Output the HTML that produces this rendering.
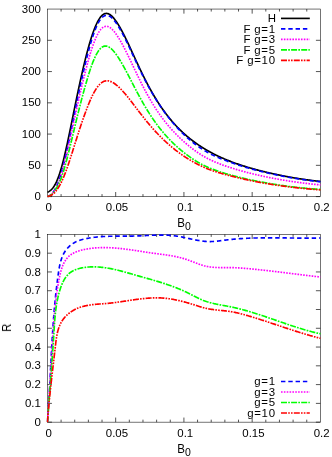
<!DOCTYPE html>
<html><head><meta charset="utf-8"><title>plot</title>
<style>html,body{margin:0;padding:0;background:#fff}svg{display:block}text{font-family:"Liberation Sans",sans-serif;fill:#000}</style></head><body>
<svg width="332" height="457" viewBox="0 0 332 457">
<rect width="332" height="457" fill="#fff"/>
<defs><filter id="gs" x="-0.2" y="-0.2" width="1.4" height="1.4" color-interpolation-filters="sRGB"><feColorMatrix type="saturate" values="0"/></filter><clipPath id="ct"><rect x="46.43" y="8.05" width="274.99" height="189.55"/></clipPath><clipPath id="cb"><rect x="46.43" y="233.40" width="274.97" height="189.75"/></clipPath></defs>
<rect x="47.43" y="9.05" width="272.99" height="187.55" fill="none" stroke="#000" stroke-width="0.55"/>
<path d="M61.08 196.60 v-2.50 M61.08 9.05 v2.50 M74.73 196.60 v-2.50 M74.73 9.05 v2.50 M88.38 196.60 v-2.50 M88.38 9.05 v2.50 M102.03 196.60 v-2.50 M102.03 9.05 v2.50 M115.68 196.60 v-4.60 M115.68 9.05 v4.60 M129.33 196.60 v-2.50 M129.33 9.05 v2.50 M142.98 196.60 v-2.50 M142.98 9.05 v2.50 M156.63 196.60 v-2.50 M156.63 9.05 v2.50 M170.28 196.60 v-2.50 M170.28 9.05 v2.50 M183.93 196.60 v-4.60 M183.93 9.05 v4.60 M197.57 196.60 v-2.50 M197.57 9.05 v2.50 M211.22 196.60 v-2.50 M211.22 9.05 v2.50 M224.87 196.60 v-2.50 M224.87 9.05 v2.50 M238.52 196.60 v-2.50 M238.52 9.05 v2.50 M252.17 196.60 v-4.60 M252.17 9.05 v4.60 M265.82 196.60 v-2.50 M265.82 9.05 v2.50 M279.47 196.60 v-2.50 M279.47 9.05 v2.50 M293.12 196.60 v-2.50 M293.12 9.05 v2.50 M306.77 196.60 v-2.50 M306.77 9.05 v2.50 M47.43 196.60 h4.5 M320.42 196.60 h-4.5 M47.43 165.34 h4.5 M320.42 165.34 h-4.5 M47.43 134.08 h4.5 M320.42 134.08 h-4.5 M47.43 102.83 h4.5 M320.42 102.83 h-4.5 M47.43 71.57 h4.5 M320.42 71.57 h-4.5 M47.43 40.31 h4.5 M320.42 40.31 h-4.5" stroke="#000" stroke-width="0.67" fill="none"/>
<g clip-path="url(#ct)" fill="none" stroke-width="1.65" stroke-linejoin="round">
<path d="M47.43 192.33 L48.11 192.01 L48.80 191.62 L49.48 191.18 L50.16 190.68 L50.85 190.10 L51.30 189.67 L51.76 189.21 L52.21 188.70 L52.67 188.16 L53.12 187.57 L53.58 186.93 L54.03 186.25 L54.49 185.52 L54.94 184.74 L55.40 183.91 L55.85 183.02 L56.31 182.08 L56.76 181.09 L57.22 180.04 L57.68 178.93 L57.90 178.35 L58.13 177.76 L58.36 177.16 L58.59 176.54 L58.81 175.91 L59.04 175.26 L59.27 174.60 L59.50 173.92 L59.72 173.23 L59.95 172.53 L60.18 171.81 L60.41 171.08 L60.64 170.33 L60.86 169.57 L61.09 168.80 L61.32 168.01 L61.55 167.21 L61.77 166.40 L62.00 165.57 L62.23 164.73 L62.46 163.88 L62.68 163.02 L62.91 162.14 L63.14 161.26 L63.37 160.36 L63.60 159.45 L63.82 158.53 L64.05 157.60 L64.28 156.66 L64.51 155.71 L64.73 154.74 L64.96 153.77 L65.19 152.79 L65.42 151.80 L65.64 150.81 L65.87 149.80 L66.10 148.79 L66.33 147.76 L66.56 146.74 L66.78 145.70 L67.01 144.66 L67.24 143.61 L67.47 142.55 L67.69 141.49 L67.92 140.42 L68.15 139.35 L68.38 138.27 L68.60 137.19 L68.83 136.11 L69.06 135.02 L69.29 133.92 L69.52 132.82 L69.74 131.72 L69.97 130.62 L70.20 129.51 L70.43 128.41 L70.65 127.29 L70.88 126.18 L71.11 125.07 L71.34 123.95 L71.56 122.83 L71.79 121.71 L72.02 120.60 L72.25 119.48 L72.47 118.36 L72.70 117.23 L72.93 116.11 L73.16 114.99 L73.39 113.87 L73.61 112.76 L73.84 111.64 L74.07 110.52 L74.30 109.40 L74.52 108.29 L74.75 107.18 L74.98 106.06 L75.21 104.95 L75.43 103.85 L75.66 102.74 L75.89 101.64 L76.12 100.53 L76.35 99.44 L76.57 98.34 L76.80 97.25 L77.03 96.15 L77.26 95.07 L77.48 93.98 L77.71 92.90 L77.94 91.82 L78.17 90.75 L78.39 89.68 L78.62 88.61 L78.85 87.55 L79.08 86.49 L79.31 85.43 L79.53 84.38 L79.76 83.33 L79.99 82.29 L80.22 81.25 L80.44 80.22 L80.67 79.19 L80.90 78.16 L81.13 77.14 L81.35 76.12 L81.58 75.11 L81.81 74.11 L82.04 73.11 L82.27 72.11 L82.49 71.12 L82.72 70.14 L82.95 69.16 L83.18 68.18 L83.40 67.22 L83.63 66.25 L83.86 65.30 L84.09 64.35 L84.31 63.40 L84.54 62.46 L84.77 61.53 L85.00 60.61 L85.23 59.69 L85.45 58.77 L85.68 57.87 L85.91 56.97 L86.14 56.07 L86.36 55.19 L86.59 54.31 L86.82 53.43 L87.05 52.57 L87.27 51.71 L87.50 50.86 L87.73 50.01 L87.96 49.17 L88.18 48.35 L88.41 47.52 L88.64 46.71 L88.87 45.90 L89.10 45.10 L89.32 44.31 L89.55 43.53 L89.78 42.76 L90.01 41.99 L90.23 41.23 L90.46 40.48 L90.69 39.74 L90.92 39.01 L91.14 38.28 L91.37 37.57 L91.60 36.86 L91.83 36.16 L92.06 35.48 L92.28 34.80 L92.51 34.13 L92.74 33.46 L92.97 32.81 L93.19 32.17 L93.42 31.54 L93.65 30.92 L93.88 30.30 L94.10 29.70 L94.33 29.11 L94.56 28.52 L94.79 27.95 L95.02 27.39 L95.47 26.29 L95.93 25.24 L96.38 24.23 L96.84 23.26 L97.29 22.34 L97.75 21.46 L98.20 20.62 L98.66 19.83 L99.11 19.08 L99.57 18.38 L100.02 17.73 L100.48 17.12 L100.94 16.56 L101.39 16.05 L101.85 15.58 L102.30 15.16 L102.98 14.62 L103.67 14.18 L104.35 13.84 L105.03 13.60 L105.72 13.46 L106.40 13.42 L107.08 13.47 L107.77 13.61 L108.45 13.84 L109.13 14.16 L109.81 14.55 L110.50 15.02 L111.18 15.56 L111.64 15.96 L112.09 16.39 L112.55 16.85 L113.00 17.33 L113.46 17.84 L113.91 18.38 L114.37 18.94 L114.82 19.52 L115.28 20.13 L115.73 20.75 L116.19 21.40 L116.65 22.07 L117.10 22.75 L117.56 23.45 L118.01 24.17 L118.47 24.91 L118.92 25.66 L119.38 26.43 L119.83 27.21 L120.29 28.01 L120.74 28.82 L121.20 29.65 L121.65 30.48 L122.11 31.33 L122.56 32.19 L123.02 33.06 L123.48 33.94 L123.93 34.83 L124.39 35.73 L124.84 36.64 L125.30 37.56 L125.75 38.49 L126.21 39.42 L126.66 40.36 L127.12 41.31 L127.57 42.27 L128.03 43.23 L128.48 44.19 L128.94 45.16 L129.40 46.14 L129.85 47.12 L130.31 48.10 L130.76 49.09 L131.22 50.07 L131.67 51.06 L132.13 52.06 L132.58 53.05 L133.04 54.04 L133.49 55.04 L133.95 56.03 L134.40 57.02 L134.86 58.02 L135.32 59.01 L135.77 60.00 L136.23 60.98 L136.68 61.97 L137.14 62.95 L137.59 63.93 L138.05 64.91 L138.50 65.88 L138.96 66.85 L139.41 67.82 L139.87 68.78 L140.32 69.74 L140.78 70.69 L141.23 71.64 L141.69 72.58 L142.15 73.52 L142.60 74.45 L143.06 75.38 L143.51 76.30 L143.97 77.21 L144.42 78.12 L144.88 79.03 L145.33 79.93 L145.79 80.82 L146.24 81.70 L146.70 82.58 L147.15 83.45 L147.61 84.32 L148.07 85.18 L148.52 86.03 L148.98 86.88 L149.43 87.72 L149.89 88.55 L150.34 89.38 L150.80 90.20 L151.25 91.01 L151.71 91.82 L152.16 92.62 L152.62 93.41 L153.07 94.20 L153.53 94.97 L153.98 95.75 L154.44 96.51 L154.90 97.27 L155.35 98.02 L155.81 98.77 L156.26 99.51 L156.72 100.24 L157.17 100.97 L157.63 101.69 L158.08 102.40 L158.54 103.11 L158.99 103.81 L159.45 104.50 L159.90 105.19 L160.36 105.87 L160.82 106.54 L161.27 107.21 L161.73 107.87 L162.18 108.53 L162.64 109.18 L163.09 109.82 L163.55 110.46 L164.00 111.09 L164.46 111.71 L164.91 112.33 L165.37 112.94 L165.82 113.55 L166.28 114.15 L166.74 114.75 L167.19 115.34 L167.65 115.92 L168.10 116.50 L168.56 117.08 L169.01 117.64 L169.47 118.21 L169.92 118.76 L170.38 119.32 L170.83 119.86 L171.29 120.40 L171.74 120.94 L172.20 121.47 L172.65 122.00 L173.11 122.52 L173.57 123.03 L174.02 123.54 L174.48 124.05 L174.93 124.55 L175.39 125.04 L175.84 125.54 L176.30 126.02 L176.75 126.50 L177.21 126.98 L177.66 127.45 L178.12 127.92 L178.57 128.39 L179.03 128.85 L179.49 129.30 L179.94 129.75 L180.40 130.20 L180.85 130.64 L181.31 131.08 L181.76 131.51 L182.22 131.94 L182.67 132.37 L183.13 132.79 L183.58 133.21 L184.04 133.62 L184.49 134.03 L184.95 134.44 L185.40 134.84 L185.86 135.24 L186.32 135.63 L186.77 136.03 L187.45 136.61 L188.14 137.18 L188.82 137.74 L189.50 138.30 L190.19 138.85 L190.87 139.39 L191.55 139.92 L192.24 140.45 L192.92 140.97 L193.60 141.48 L194.28 141.99 L194.97 142.49 L195.65 142.98 L196.33 143.46 L197.02 143.94 L197.70 144.42 L198.38 144.88 L199.07 145.34 L199.75 145.80 L200.43 146.25 L201.11 146.69 L201.80 147.13 L202.48 147.56 L203.16 147.99 L203.85 148.41 L204.53 148.82 L205.21 149.23 L205.90 149.64 L206.58 150.04 L207.26 150.43 L207.95 150.82 L208.63 151.21 L209.31 151.59 L209.99 151.96 L210.68 152.33 L211.36 152.70 L212.04 153.06 L212.73 153.42 L213.41 153.77 L214.09 154.12 L214.78 154.47 L215.46 154.81 L216.14 155.14 L216.82 155.48 L217.51 155.81 L218.19 156.13 L218.87 156.45 L219.56 156.77 L220.24 157.08 L220.92 157.39 L221.61 157.70 L222.29 158.00 L222.97 158.30 L223.66 158.60 L224.34 158.89 L225.02 159.18 L225.70 159.47 L226.39 159.75 L227.07 160.04 L227.75 160.31 L228.44 160.59 L229.12 160.86 L229.80 161.13 L230.49 161.39 L231.17 161.66 L231.85 161.92 L232.53 162.17 L233.22 162.43 L233.90 162.68 L234.58 162.93 L235.27 163.17 L235.95 163.42 L236.63 163.66 L237.32 163.90 L238.00 164.14 L238.68 164.37 L239.37 164.60 L240.05 164.83 L240.73 165.06 L241.41 165.28 L242.10 165.51 L242.78 165.73 L243.46 165.95 L244.15 166.16 L244.83 166.38 L245.51 166.59 L246.20 166.80 L246.88 167.01 L247.56 167.21 L248.24 167.42 L248.93 167.62 L249.61 167.82 L250.29 168.02 L250.98 168.22 L251.66 168.41 L252.34 168.61 L253.03 168.80 L253.71 168.99 L254.39 169.17 L255.08 169.36 L255.76 169.55 L256.44 169.73 L257.12 169.91 L257.81 170.09 L258.49 170.27 L259.17 170.45 L259.86 170.62 L260.54 170.80 L261.22 170.97 L261.91 171.14 L262.59 171.31 L263.27 171.48 L263.96 171.64 L264.64 171.81 L265.32 171.97 L266.00 172.14 L266.69 172.30 L267.37 172.46 L268.05 172.62 L268.74 172.77 L269.42 172.93 L270.10 173.09 L270.79 173.24 L271.47 173.39 L272.15 173.54 L272.83 173.69 L273.52 173.84 L274.20 173.99 L274.88 174.14 L275.57 174.28 L276.25 174.43 L276.93 174.57 L277.62 174.72 L278.30 174.86 L278.98 175.00 L279.67 175.14 L280.35 175.28 L281.03 175.42 L281.71 175.55 L282.40 175.69 L283.08 175.83 L283.76 175.96 L284.45 176.09 L285.13 176.23 L285.81 176.36 L286.50 176.49 L287.18 176.62 L287.86 176.75 L288.54 176.87 L289.23 177.00 L289.91 177.12 L290.59 177.24 L291.28 177.37 L291.96 177.49 L292.64 177.60 L293.33 177.72 L294.01 177.84 L294.69 177.95 L295.38 178.07 L296.06 178.18 L296.74 178.29 L297.42 178.40 L298.11 178.51 L298.79 178.62 L299.47 178.73 L300.16 178.83 L300.84 178.93 L301.52 179.04 L302.21 179.14 L302.89 179.24 L303.57 179.34 L304.25 179.44 L304.94 179.54 L305.62 179.63 L306.30 179.73 L306.99 179.82 L307.67 179.92 L308.35 180.01 L309.04 180.10 L309.72 180.19 L310.40 180.28 L311.09 180.37 L311.77 180.45 L312.45 180.54 L313.13 180.63 L313.82 180.71 L314.50 180.79 L315.18 180.87 L315.87 180.96 L316.55 181.04 L317.23 181.12 L317.92 181.19 L318.60 181.27 L319.28 181.35 L319.96 181.42 L320.42 181.47" stroke="#000000"/>
<path d="M47.43 196.60 L48.11 196.37 L48.80 196.07 L49.48 195.68 L50.17 195.18 L50.64 194.79 L51.11 194.35 L51.57 193.87 L52.04 193.36 L52.51 192.80 L52.98 192.22 L53.45 191.59 L53.92 190.92 L54.39 190.21 L54.86 189.44 L55.33 188.63 L55.80 187.76 L56.26 186.83 L56.73 185.84 L57.20 184.78 L57.44 184.22 L57.67 183.65 L57.91 183.06 L58.14 182.46 L58.37 181.83 L58.61 181.19 L58.84 180.53 L59.08 179.87 L59.31 179.19 L59.55 178.50 L59.78 177.79 L60.02 177.08 L60.25 176.36 L60.48 175.63 L60.71 174.89 L60.94 174.14 L61.16 173.37 L61.39 172.60 L61.62 171.81 L61.85 171.01 L62.07 170.20 L62.30 169.38 L62.53 168.55 L62.76 167.70 L62.98 166.85 L63.21 165.98 L63.44 165.10 L63.67 164.21 L63.90 163.31 L64.12 162.40 L64.35 161.47 L64.58 160.54 L64.81 159.60 L65.03 158.65 L65.26 157.68 L65.49 156.71 L65.72 155.73 L65.94 154.74 L66.17 153.74 L66.40 152.74 L66.63 151.72 L66.86 150.70 L67.08 149.67 L67.31 148.64 L67.54 147.59 L67.77 146.54 L67.99 145.48 L68.22 144.42 L68.45 143.35 L68.68 142.28 L68.90 141.20 L69.13 140.11 L69.36 139.02 L69.59 137.93 L69.82 136.83 L70.04 135.73 L70.27 134.62 L70.50 133.51 L70.73 132.40 L70.95 131.28 L71.18 130.16 L71.41 129.04 L71.64 127.92 L71.86 126.80 L72.09 125.67 L72.32 124.55 L72.55 123.42 L72.77 122.29 L73.00 121.16 L73.23 120.03 L73.46 118.90 L73.69 117.77 L73.91 116.64 L74.14 115.51 L74.37 114.38 L74.60 113.25 L74.82 112.13 L75.05 111.00 L75.28 109.88 L75.51 108.75 L75.73 107.63 L75.96 106.51 L76.19 105.40 L76.42 104.28 L76.65 103.17 L76.87 102.06 L77.10 100.95 L77.33 99.85 L77.56 98.75 L77.78 97.65 L78.01 96.56 L78.24 95.47 L78.47 94.38 L78.69 93.29 L78.92 92.21 L79.15 91.14 L79.38 90.06 L79.61 89.00 L79.83 87.93 L80.06 86.87 L80.29 85.81 L80.52 84.76 L80.74 83.72 L80.97 82.67 L81.20 81.63 L81.43 80.60 L81.65 79.57 L81.88 78.55 L82.11 77.53 L82.34 76.52 L82.57 75.51 L82.79 74.51 L83.02 73.51 L83.25 72.52 L83.48 71.53 L83.70 70.55 L83.93 69.57 L84.16 68.60 L84.39 67.64 L84.61 66.68 L84.84 65.73 L85.07 64.78 L85.30 63.84 L85.52 62.91 L85.74 61.98 L85.97 61.06 L86.19 60.15 L86.41 59.24 L86.64 58.34 L86.86 57.44 L87.08 56.55 L87.31 55.67 L87.53 54.80 L87.75 53.93 L87.98 53.07 L88.20 52.22 L88.42 51.37 L88.64 50.54 L88.87 49.71 L89.09 48.88 L89.31 48.07 L89.54 47.26 L89.76 46.46 L89.98 45.67 L90.21 44.89 L90.43 44.12 L90.65 43.35 L90.88 42.59 L91.10 41.84 L91.32 41.10 L91.55 40.37 L91.77 39.65 L91.99 38.94 L92.21 38.23 L92.44 37.54 L92.66 36.85 L92.88 36.17 L93.11 35.51 L93.33 34.85 L93.55 34.20 L93.78 33.56 L94.00 32.93 L94.22 32.31 L94.45 31.70 L94.67 31.11 L94.89 30.52 L95.12 29.94 L95.34 29.37 L95.56 28.81 L96.01 27.73 L96.45 26.69 L96.90 25.69 L97.35 24.74 L97.79 23.83 L98.24 22.96 L98.69 22.15 L99.13 21.37 L99.58 20.65 L100.02 19.97 L100.48 19.33 L100.94 18.75 L101.39 18.21 L101.85 17.72 L102.30 17.27 L102.76 16.88 L103.44 16.37 L104.12 15.96 L104.81 15.66 L105.49 15.46 L106.17 15.36 L106.85 15.35 L107.54 15.44 L108.22 15.62 L108.90 15.88 L109.59 16.22 L110.27 16.64 L110.95 17.14 L111.64 17.71 L112.09 18.13 L112.55 18.57 L113.00 19.05 L113.46 19.55 L113.91 20.07 L114.37 20.62 L114.82 21.19 L115.28 21.79 L115.73 22.41 L116.19 23.04 L116.65 23.70 L117.10 24.38 L117.56 25.07 L118.01 25.78 L118.47 26.51 L118.92 27.25 L119.38 28.01 L119.83 28.79 L120.29 29.57 L120.74 30.38 L121.20 31.19 L121.65 32.02 L122.11 32.86 L122.56 33.71 L123.02 34.57 L123.48 35.44 L123.93 36.33 L124.39 37.22 L124.84 38.12 L125.30 39.03 L125.75 39.94 L126.21 40.87 L126.66 41.80 L127.12 42.74 L127.57 43.68 L128.03 44.63 L128.48 45.59 L128.94 46.54 L129.40 47.51 L129.85 48.47 L130.31 49.44 L130.76 50.42 L131.22 51.39 L131.67 52.37 L132.13 53.35 L132.58 54.32 L133.04 55.30 L133.49 56.28 L133.95 57.26 L134.40 58.24 L134.86 59.21 L135.32 60.19 L135.77 61.16 L136.23 62.13 L136.68 63.10 L137.14 64.06 L137.59 65.02 L138.05 65.98 L138.50 66.93 L138.96 67.88 L139.41 68.83 L139.87 69.77 L140.32 70.71 L140.78 71.64 L141.23 72.57 L141.69 73.49 L142.15 74.41 L142.60 75.32 L143.06 76.22 L143.51 77.12 L143.97 78.02 L144.42 78.91 L144.88 79.79 L145.33 80.67 L145.79 81.54 L146.24 82.41 L146.70 83.27 L147.15 84.12 L147.61 84.97 L148.07 85.81 L148.52 86.65 L148.98 87.47 L149.43 88.30 L149.89 89.11 L150.34 89.92 L150.80 90.73 L151.25 91.53 L151.71 92.32 L152.16 93.10 L152.62 93.88 L153.07 94.65 L153.53 95.42 L153.98 96.18 L154.44 96.93 L154.90 97.68 L155.35 98.42 L155.81 99.16 L156.26 99.89 L156.72 100.61 L157.17 101.33 L157.63 102.04 L158.08 102.75 L158.54 103.45 L158.99 104.14 L159.45 104.83 L159.90 105.51 L160.36 106.19 L160.82 106.86 L161.27 107.52 L161.73 108.18 L162.18 108.84 L162.64 109.48 L163.09 110.13 L163.55 110.77 L164.00 111.40 L164.46 112.02 L164.91 112.65 L165.37 113.26 L165.82 113.87 L166.28 114.48 L166.74 115.08 L167.19 115.68 L167.65 116.27 L168.10 116.86 L168.56 117.44 L169.01 118.01 L169.47 118.59 L169.92 119.15 L170.38 119.72 L170.83 120.27 L171.29 120.83 L171.74 121.38 L172.20 121.92 L172.65 122.46 L173.11 123.00 L173.57 123.53 L174.02 124.06 L174.48 124.58 L174.93 125.10 L175.39 125.61 L175.84 126.12 L176.30 126.63 L176.75 127.13 L177.21 127.63 L177.66 128.13 L178.12 128.62 L178.57 129.11 L179.03 129.59 L179.49 130.07 L179.94 130.54 L180.40 131.02 L180.85 131.48 L181.31 131.95 L181.76 132.41 L182.22 132.86 L182.67 133.31 L183.13 133.76 L183.58 134.20 L184.04 134.64 L184.49 135.08 L184.95 135.51 L185.40 135.94 L185.86 136.36 L186.32 136.78 L186.77 137.20 L187.23 137.61 L187.68 138.02 L188.14 138.43 L188.59 138.83 L189.05 139.23 L189.50 139.62 L190.19 140.20 L190.87 140.78 L191.55 141.34 L192.24 141.90 L192.92 142.45 L193.60 142.99 L194.28 143.53 L194.97 144.05 L195.65 144.57 L196.33 145.08 L197.02 145.58 L197.70 146.07 L198.38 146.56 L199.07 147.03 L199.75 147.50 L200.43 147.97 L201.11 148.42 L201.80 148.87 L202.48 149.31 L203.16 149.74 L203.85 150.16 L204.53 150.58 L205.21 150.99 L205.90 151.40 L206.58 151.79 L207.26 152.18 L207.95 152.56 L208.63 152.94 L209.31 153.31 L209.99 153.67 L210.68 154.02 L211.36 154.37 L212.04 154.72 L212.73 155.05 L213.41 155.38 L214.09 155.71 L214.78 156.03 L215.46 156.34 L216.14 156.65 L216.82 156.96 L217.51 157.26 L218.19 157.55 L218.87 157.85 L219.56 158.14 L220.24 158.42 L220.92 158.70 L221.61 158.98 L222.29 159.25 L222.97 159.53 L223.66 159.79 L224.34 160.06 L225.02 160.32 L225.70 160.59 L226.39 160.84 L227.07 161.10 L227.75 161.36 L228.44 161.61 L229.12 161.86 L229.80 162.10 L230.49 162.35 L231.17 162.59 L231.85 162.83 L232.53 163.07 L233.22 163.31 L233.90 163.54 L234.58 163.77 L235.27 164.00 L235.95 164.23 L236.63 164.46 L237.32 164.68 L238.00 164.90 L238.68 165.12 L239.37 165.34 L240.05 165.56 L240.73 165.77 L241.41 165.98 L242.10 166.19 L242.78 166.40 L243.46 166.61 L244.15 166.82 L244.83 167.02 L245.51 167.22 L246.20 167.42 L246.88 167.62 L247.56 167.82 L248.24 168.01 L248.93 168.21 L249.61 168.40 L250.29 168.59 L250.98 168.78 L251.66 168.97 L252.34 169.15 L253.03 169.34 L253.71 169.52 L254.39 169.70 L255.08 169.88 L255.76 170.06 L256.44 170.24 L257.12 170.41 L257.81 170.59 L258.49 170.76 L259.17 170.93 L259.86 171.10 L260.54 171.27 L261.22 171.44 L261.91 171.61 L262.59 171.77 L263.27 171.94 L263.96 172.10 L264.64 172.26 L265.32 172.42 L266.00 172.58 L266.69 172.74 L267.37 172.90 L268.05 173.05 L268.74 173.21 L269.42 173.36 L270.10 173.51 L270.79 173.66 L271.47 173.81 L272.15 173.96 L272.83 174.11 L273.52 174.26 L274.20 174.40 L274.88 174.55 L275.57 174.69 L276.25 174.84 L276.93 174.98 L277.62 175.12 L278.30 175.26 L278.98 175.40 L279.67 175.54 L280.35 175.67 L281.03 175.81 L281.71 175.95 L282.40 176.08 L283.08 176.21 L283.76 176.35 L284.45 176.48 L285.13 176.61 L285.81 176.74 L286.50 176.87 L287.18 177.00 L287.86 177.12 L288.54 177.25 L289.23 177.37 L289.91 177.49 L290.59 177.62 L291.28 177.74 L291.96 177.85 L292.64 177.97 L293.33 178.09 L294.01 178.20 L294.69 178.32 L295.38 178.43 L296.06 178.54 L296.74 178.65 L297.42 178.76 L298.11 178.87 L298.79 178.97 L299.47 179.08 L300.16 179.18 L300.84 179.28 L301.52 179.38 L302.21 179.48 L302.89 179.58 L303.57 179.68 L304.25 179.78 L304.94 179.88 L305.62 179.97 L306.30 180.06 L306.99 180.16 L307.67 180.25 L308.35 180.34 L309.04 180.43 L309.72 180.52 L310.40 180.60 L311.09 180.69 L311.77 180.77 L312.45 180.86 L313.13 180.94 L313.82 181.02 L314.50 181.10 L315.18 181.18 L315.87 181.26 L316.55 181.34 L317.23 181.42 L317.92 181.49 L318.60 181.57 L319.28 181.64 L319.96 181.72 L320.42 181.76" stroke="#0000ff" stroke-dasharray="4.4 2.9"/>
<path d="M47.43 196.60 L48.11 196.34 L48.80 196.02 L49.48 195.65 L50.17 195.21 L50.88 194.70 L51.36 194.31 L51.83 193.88 L52.31 193.40 L52.79 192.87 L53.26 192.28 L53.74 191.63 L54.21 190.94 L54.69 190.21 L55.17 189.44 L55.64 188.63 L56.12 187.79 L56.59 186.89 L57.07 185.95 L57.55 184.95 L58.02 183.90 L58.50 182.79 L58.73 182.21 L58.97 181.62 L59.21 181.01 L59.45 180.39 L59.69 179.75 L59.92 179.10 L60.16 178.43 L60.40 177.74 L60.63 177.05 L60.86 176.34 L61.09 175.62 L61.31 174.88 L61.54 174.14 L61.77 173.39 L62.00 172.62 L62.22 171.84 L62.45 171.05 L62.68 170.25 L62.91 169.44 L63.13 168.62 L63.36 167.79 L63.59 166.95 L63.82 166.10 L64.05 165.24 L64.27 164.37 L64.50 163.49 L64.73 162.60 L64.96 161.70 L65.18 160.79 L65.41 159.87 L65.64 158.94 L65.87 158.01 L66.09 157.06 L66.32 156.11 L66.55 155.15 L66.78 154.19 L67.01 153.21 L67.23 152.24 L67.46 151.25 L67.69 150.26 L67.92 149.26 L68.14 148.26 L68.37 147.25 L68.60 146.24 L68.83 145.22 L69.05 144.20 L69.28 143.17 L69.51 142.14 L69.74 141.11 L69.97 140.07 L70.19 139.03 L70.42 137.99 L70.65 136.94 L70.88 135.89 L71.10 134.84 L71.33 133.79 L71.56 132.74 L71.79 131.68 L72.01 130.62 L72.24 129.57 L72.47 128.51 L72.70 127.45 L72.92 126.39 L73.15 125.33 L73.38 124.26 L73.61 123.20 L73.84 122.14 L74.06 121.08 L74.29 120.02 L74.52 118.96 L74.75 117.90 L74.97 116.85 L75.20 115.79 L75.43 114.74 L75.66 113.68 L75.88 112.63 L76.11 111.58 L76.34 110.53 L76.57 109.49 L76.80 108.44 L77.02 107.40 L77.25 106.36 L77.48 105.33 L77.71 104.29 L77.93 103.26 L78.16 102.23 L78.39 101.21 L78.62 100.18 L78.84 99.17 L79.07 98.15 L79.30 97.14 L79.53 96.13 L79.76 95.12 L79.98 94.12 L80.21 93.12 L80.44 92.13 L80.67 91.14 L80.89 90.16 L81.12 89.17 L81.35 88.20 L81.58 87.22 L81.80 86.26 L82.03 85.29 L82.26 84.33 L82.49 83.38 L82.72 82.43 L82.94 81.48 L83.17 80.54 L83.40 79.61 L83.63 78.68 L83.85 77.76 L84.08 76.84 L84.31 75.92 L84.54 75.01 L84.76 74.11 L84.99 73.21 L85.22 72.32 L85.45 71.44 L85.67 70.56 L85.89 69.68 L86.11 68.82 L86.33 67.95 L86.55 67.10 L86.77 66.25 L86.99 65.41 L87.21 64.57 L87.44 63.74 L87.66 62.92 L87.88 62.10 L88.10 61.29 L88.32 60.49 L88.54 59.70 L88.76 58.91 L88.98 58.13 L89.20 57.35 L89.42 56.59 L89.64 55.83 L89.86 55.08 L90.09 54.34 L90.31 53.60 L90.53 52.87 L90.75 52.16 L90.97 51.44 L91.19 50.74 L91.41 50.05 L91.63 49.36 L91.85 48.68 L92.07 48.01 L92.29 47.35 L92.51 46.70 L92.74 46.06 L92.96 45.42 L93.18 44.80 L93.40 44.18 L93.62 43.58 L93.84 42.98 L94.06 42.39 L94.28 41.81 L94.50 41.24 L94.72 40.68 L95.16 39.59 L95.61 38.54 L96.05 37.53 L96.49 36.57 L96.93 35.64 L97.37 34.75 L97.82 33.91 L98.26 33.11 L98.70 32.36 L99.14 31.64 L99.58 30.98 L100.02 30.35 L100.48 29.77 L100.94 29.24 L101.39 28.75 L101.85 28.31 L102.30 27.91 L102.98 27.40 L103.67 26.98 L104.35 26.67 L105.03 26.45 L105.72 26.33 L106.40 26.30 L107.08 26.37 L107.77 26.52 L108.45 26.75 L109.13 27.07 L109.81 27.46 L110.50 27.93 L111.18 28.47 L111.64 28.86 L112.09 29.28 L112.55 29.74 L113.00 30.21 L113.46 30.72 L113.91 31.24 L114.37 31.80 L114.82 32.37 L115.28 32.96 L115.73 33.58 L116.19 34.21 L116.65 34.87 L117.10 35.54 L117.56 36.23 L118.01 36.93 L118.47 37.66 L118.92 38.39 L119.38 39.15 L119.83 39.91 L120.29 40.69 L120.74 41.48 L121.20 42.29 L121.65 43.11 L122.11 43.94 L122.56 44.78 L123.02 45.63 L123.48 46.49 L123.93 47.35 L124.39 48.23 L124.84 49.12 L125.30 50.01 L125.75 50.92 L126.21 51.83 L126.66 52.74 L127.12 53.67 L127.57 54.59 L128.03 55.53 L128.48 56.47 L128.94 57.41 L129.40 58.36 L129.85 59.31 L130.31 60.26 L130.76 61.21 L131.22 62.17 L131.67 63.13 L132.13 64.09 L132.58 65.05 L133.04 66.01 L133.49 66.97 L133.95 67.93 L134.40 68.89 L134.86 69.85 L135.32 70.81 L135.77 71.76 L136.23 72.72 L136.68 73.67 L137.14 74.61 L137.59 75.56 L138.05 76.50 L138.50 77.43 L138.96 78.37 L139.41 79.29 L139.87 80.22 L140.32 81.14 L140.78 82.05 L141.23 82.96 L141.69 83.86 L142.15 84.76 L142.60 85.66 L143.06 86.54 L143.51 87.42 L143.97 88.30 L144.42 89.17 L144.88 90.03 L145.33 90.89 L145.79 91.74 L146.24 92.58 L146.70 93.42 L147.15 94.25 L147.61 95.08 L148.07 95.89 L148.52 96.70 L148.98 97.51 L149.43 98.31 L149.89 99.10 L150.34 99.88 L150.80 100.66 L151.25 101.43 L151.71 102.19 L152.16 102.95 L152.62 103.70 L153.07 104.44 L153.53 105.17 L153.98 105.90 L154.44 106.63 L154.90 107.34 L155.35 108.05 L155.81 108.75 L156.26 109.45 L156.72 110.13 L157.17 110.82 L157.63 111.49 L158.08 112.16 L158.54 112.82 L158.99 113.48 L159.45 114.13 L159.90 114.78 L160.36 115.41 L160.82 116.05 L161.27 116.67 L161.73 117.29 L162.18 117.91 L162.64 118.52 L163.09 119.12 L163.55 119.72 L164.00 120.31 L164.46 120.90 L164.91 121.48 L165.37 122.05 L165.82 122.62 L166.28 123.19 L166.74 123.75 L167.19 124.30 L167.65 124.85 L168.10 125.40 L168.56 125.94 L169.01 126.47 L169.47 127.00 L169.92 127.53 L170.38 128.05 L170.83 128.56 L171.29 129.07 L171.74 129.58 L172.20 130.08 L172.65 130.58 L173.11 131.07 L173.57 131.56 L174.02 132.05 L174.48 132.53 L174.93 133.01 L175.39 133.48 L175.84 133.95 L176.30 134.41 L176.75 134.87 L177.21 135.33 L177.66 135.78 L178.12 136.23 L178.57 136.68 L179.03 137.12 L179.49 137.56 L179.94 138.00 L180.40 138.43 L180.85 138.86 L181.31 139.28 L181.76 139.71 L182.22 140.12 L182.67 140.54 L183.13 140.95 L183.58 141.36 L184.04 141.77 L184.49 142.17 L184.95 142.57 L185.40 142.97 L185.86 143.36 L186.32 143.75 L187.00 144.34 L187.68 144.91 L188.36 145.48 L189.05 146.04 L189.73 146.60 L190.41 147.15 L191.10 147.69 L191.78 148.22 L192.46 148.75 L193.15 149.27 L193.83 149.79 L194.51 150.29 L195.20 150.79 L195.88 151.28 L196.56 151.76 L197.24 152.24 L197.93 152.71 L198.61 153.17 L199.29 153.62 L199.98 154.06 L200.66 154.50 L201.34 154.93 L202.03 155.35 L202.71 155.77 L203.39 156.17 L204.07 156.57 L204.76 156.96 L205.44 157.34 L206.12 157.72 L206.81 158.08 L207.49 158.44 L208.17 158.80 L208.86 159.14 L209.54 159.48 L210.22 159.81 L210.91 160.14 L211.59 160.46 L212.27 160.77 L212.95 161.08 L213.64 161.38 L214.32 161.68 L215.00 161.97 L215.69 162.26 L216.37 162.54 L217.05 162.82 L217.74 163.10 L218.42 163.37 L219.10 163.63 L219.78 163.89 L220.47 164.15 L221.15 164.41 L221.83 164.66 L222.52 164.91 L223.20 165.16 L223.88 165.40 L224.57 165.64 L225.25 165.88 L225.93 166.11 L226.62 166.34 L227.30 166.57 L227.98 166.80 L228.66 167.03 L229.35 167.25 L230.03 167.47 L230.71 167.69 L231.40 167.91 L232.08 168.13 L232.76 168.34 L233.45 168.55 L234.13 168.76 L234.81 168.97 L235.49 169.18 L236.18 169.38 L236.86 169.59 L237.54 169.79 L238.23 169.99 L238.91 170.19 L239.59 170.39 L240.28 170.58 L240.96 170.77 L241.64 170.97 L242.33 171.16 L243.01 171.35 L243.69 171.53 L244.37 171.72 L245.06 171.90 L245.74 172.08 L246.42 172.27 L247.11 172.44 L247.79 172.62 L248.47 172.80 L249.16 172.97 L249.84 173.15 L250.52 173.32 L251.20 173.49 L251.89 173.66 L252.57 173.82 L253.25 173.99 L253.94 174.15 L254.62 174.32 L255.30 174.48 L255.99 174.64 L256.67 174.80 L257.35 174.95 L258.04 175.11 L258.72 175.26 L259.40 175.42 L260.08 175.57 L260.77 175.72 L261.45 175.87 L262.13 176.02 L262.82 176.16 L263.50 176.31 L264.18 176.46 L264.87 176.60 L265.55 176.74 L266.23 176.88 L266.91 177.02 L267.60 177.16 L268.28 177.30 L268.96 177.44 L269.65 177.57 L270.33 177.71 L271.01 177.84 L271.70 177.97 L272.38 178.10 L273.06 178.23 L273.75 178.36 L274.43 178.49 L275.11 178.62 L275.79 178.75 L276.48 178.87 L277.16 179.00 L277.84 179.12 L278.53 179.24 L279.21 179.37 L279.89 179.49 L280.58 179.61 L281.26 179.73 L281.94 179.84 L282.62 179.96 L283.31 180.08 L283.99 180.20 L284.67 180.31 L285.36 180.42 L286.04 180.54 L286.72 180.65 L287.41 180.76 L288.09 180.87 L288.77 180.98 L289.46 181.09 L290.14 181.20 L290.82 181.30 L291.50 181.41 L292.19 181.51 L292.87 181.61 L293.55 181.71 L294.24 181.81 L294.92 181.91 L295.60 182.01 L296.29 182.11 L296.97 182.20 L297.65 182.30 L298.33 182.39 L299.02 182.48 L299.70 182.58 L300.38 182.67 L301.07 182.76 L301.75 182.84 L302.43 182.93 L303.12 183.02 L303.80 183.10 L304.48 183.19 L305.17 183.27 L305.85 183.35 L306.53 183.44 L307.21 183.52 L307.90 183.60 L308.58 183.68 L309.26 183.75 L309.95 183.83 L310.63 183.91 L311.31 183.98 L312.00 184.06 L312.68 184.13 L313.36 184.20 L314.04 184.28 L314.73 184.35 L315.41 184.42 L316.09 184.49 L316.78 184.55 L317.46 184.62 L318.14 184.69 L318.83 184.76 L319.51 184.82 L320.19 184.89 L320.42 184.91" stroke="#ff00ff" stroke-dasharray="1.6 1.25"/>
<path d="M47.43 196.60 L48.11 196.37 L48.80 196.11 L49.48 195.81 L50.17 195.45 L50.90 195.03 L51.64 194.53 L52.12 194.14 L52.61 193.69 L53.10 193.19 L53.58 192.61 L54.07 191.95 L54.56 191.20 L55.05 190.42 L55.53 189.64 L56.02 188.85 L56.51 188.05 L56.99 187.22 L57.48 186.36 L57.97 185.45 L58.46 184.50 L58.94 183.51 L59.43 182.47 L59.92 181.38 L60.16 180.81 L60.41 180.23 L60.65 179.64 L60.88 179.04 L61.11 178.43 L61.34 177.80 L61.56 177.16 L61.79 176.51 L62.02 175.85 L62.25 175.18 L62.47 174.49 L62.70 173.80 L62.93 173.09 L63.16 172.37 L63.38 171.64 L63.61 170.90 L63.84 170.15 L64.07 169.40 L64.30 168.63 L64.52 167.85 L64.75 167.06 L64.98 166.26 L65.21 165.45 L65.43 164.64 L65.66 163.82 L65.89 162.98 L66.12 162.15 L66.34 161.30 L66.57 160.44 L66.80 159.58 L67.03 158.71 L67.26 157.84 L67.48 156.96 L67.71 156.07 L67.94 155.18 L68.17 154.28 L68.39 153.38 L68.62 152.47 L68.85 151.55 L69.08 150.64 L69.30 149.72 L69.53 148.79 L69.76 147.86 L69.99 146.93 L70.22 146.00 L70.44 145.06 L70.67 144.12 L70.90 143.17 L71.13 142.23 L71.35 141.28 L71.58 140.34 L71.81 139.39 L72.04 138.44 L72.26 137.48 L72.49 136.53 L72.72 135.58 L72.95 134.62 L73.17 133.67 L73.40 132.71 L73.63 131.76 L73.86 130.80 L74.09 129.85 L74.31 128.90 L74.54 127.94 L74.77 126.99 L75.00 126.04 L75.22 125.09 L75.45 124.14 L75.68 123.19 L75.91 122.24 L76.13 121.30 L76.36 120.36 L76.59 119.42 L76.82 118.48 L77.05 117.54 L77.27 116.60 L77.50 115.67 L77.73 114.74 L77.96 113.81 L78.18 112.89 L78.41 111.97 L78.64 111.05 L78.87 110.13 L79.09 109.22 L79.32 108.31 L79.55 107.40 L79.78 106.50 L80.01 105.60 L80.23 104.71 L80.46 103.81 L80.69 102.92 L80.92 102.04 L81.14 101.16 L81.37 100.28 L81.60 99.41 L81.83 98.54 L82.05 97.68 L82.28 96.82 L82.51 95.96 L82.74 95.11 L82.97 94.26 L83.19 93.42 L83.42 92.59 L83.65 91.75 L83.88 90.93 L84.10 90.11 L84.33 89.29 L84.56 88.48 L84.79 87.67 L85.01 86.87 L85.24 86.07 L85.47 85.28 L85.70 84.50 L85.91 83.72 L86.13 82.95 L86.35 82.18 L86.57 81.42 L86.78 80.66 L87.00 79.91 L87.22 79.17 L87.43 78.43 L87.65 77.70 L87.87 76.97 L88.09 76.25 L88.30 75.54 L88.52 74.84 L88.74 74.14 L88.95 73.44 L89.17 72.76 L89.39 72.08 L89.60 71.41 L89.82 70.74 L90.04 70.09 L90.26 69.44 L90.47 68.79 L90.69 68.16 L90.91 67.53 L91.12 66.91 L91.34 66.29 L91.56 65.69 L91.78 65.09 L91.99 64.50 L92.21 63.92 L92.43 63.35 L92.64 62.78 L93.08 61.68 L93.51 60.60 L93.95 59.56 L94.38 58.56 L94.81 57.59 L95.25 56.66 L95.68 55.76 L96.12 54.90 L96.55 54.08 L96.98 53.30 L97.42 52.56 L97.85 51.85 L98.29 51.18 L98.72 50.56 L99.16 49.97 L99.59 49.43 L100.02 48.92 L100.48 48.46 L100.94 48.04 L101.62 47.48 L102.30 47.01 L102.98 46.64 L103.67 46.36 L104.35 46.16 L105.03 46.06 L105.72 46.04 L106.40 46.11 L107.08 46.25 L107.77 46.48 L108.45 46.78 L109.13 47.15 L109.81 47.59 L110.50 48.10 L111.18 48.67 L111.64 49.09 L112.09 49.53 L112.55 49.99 L113.00 50.48 L113.46 50.99 L113.91 51.52 L114.37 52.07 L114.82 52.64 L115.28 53.23 L115.73 53.83 L116.19 54.46 L116.65 55.10 L117.10 55.75 L117.56 56.42 L118.01 57.11 L118.47 57.81 L118.92 58.52 L119.38 59.24 L119.83 59.98 L120.29 60.73 L120.74 61.49 L121.20 62.25 L121.65 63.03 L122.11 63.82 L122.56 64.62 L123.02 65.42 L123.48 66.24 L123.93 67.06 L124.39 67.89 L124.84 68.72 L125.30 69.56 L125.75 70.41 L126.21 71.26 L126.66 72.12 L127.12 72.98 L127.57 73.85 L128.03 74.72 L128.48 75.59 L128.94 76.47 L129.40 77.35 L129.85 78.23 L130.31 79.11 L130.76 79.99 L131.22 80.87 L131.67 81.76 L132.13 82.64 L132.58 83.53 L133.04 84.41 L133.49 85.29 L133.95 86.17 L134.40 87.05 L134.86 87.93 L135.32 88.80 L135.77 89.67 L136.23 90.54 L136.68 91.40 L137.14 92.26 L137.59 93.12 L138.05 93.97 L138.50 94.82 L138.96 95.67 L139.41 96.51 L139.87 97.34 L140.32 98.17 L140.78 99.00 L141.23 99.82 L141.69 100.63 L142.15 101.44 L142.60 102.25 L143.06 103.05 L143.51 103.84 L143.97 104.63 L144.42 105.41 L144.88 106.19 L145.33 106.96 L145.79 107.72 L146.24 108.48 L146.70 109.23 L147.15 109.98 L147.61 110.72 L148.07 111.45 L148.52 112.18 L148.98 112.90 L149.43 113.62 L149.89 114.33 L150.34 115.03 L150.80 115.73 L151.25 116.42 L151.71 117.10 L152.16 117.78 L152.62 118.46 L153.07 119.12 L153.53 119.78 L153.98 120.44 L154.44 121.09 L154.90 121.73 L155.35 122.37 L155.81 123.00 L156.26 123.63 L156.72 124.25 L157.17 124.86 L157.63 125.47 L158.08 126.07 L158.54 126.67 L158.99 127.26 L159.45 127.85 L159.90 128.43 L160.36 129.01 L160.82 129.58 L161.27 130.14 L161.73 130.70 L162.18 131.25 L162.64 131.80 L163.09 132.35 L163.55 132.89 L164.00 133.42 L164.46 133.95 L164.91 134.47 L165.37 134.99 L165.82 135.50 L166.28 136.01 L166.74 136.52 L167.19 137.02 L167.65 137.51 L168.10 138.00 L168.56 138.49 L169.01 138.97 L169.47 139.45 L169.92 139.92 L170.38 140.39 L170.83 140.85 L171.29 141.31 L171.74 141.77 L172.20 142.22 L172.65 142.66 L173.11 143.11 L173.57 143.55 L174.02 143.98 L174.48 144.41 L174.93 144.84 L175.39 145.26 L175.84 145.68 L176.30 146.10 L176.75 146.51 L177.21 146.92 L177.66 147.32 L178.12 147.73 L178.57 148.12 L179.03 148.52 L179.49 148.91 L180.17 149.49 L180.85 150.06 L181.53 150.63 L182.22 151.19 L182.90 151.74 L183.58 152.28 L184.27 152.82 L184.95 153.35 L185.63 153.88 L186.32 154.40 L187.00 154.91 L187.68 155.42 L188.36 155.92 L189.05 156.41 L189.73 156.90 L190.41 157.38 L191.10 157.85 L191.78 158.32 L192.46 158.78 L193.15 159.23 L193.83 159.68 L194.51 160.11 L195.20 160.55 L195.88 160.97 L196.56 161.39 L197.24 161.80 L197.93 162.20 L198.61 162.60 L199.29 162.99 L199.98 163.37 L200.66 163.75 L201.34 164.11 L202.03 164.47 L202.71 164.83 L203.39 165.17 L204.07 165.51 L204.76 165.85 L205.44 166.17 L206.12 166.49 L206.81 166.80 L207.49 167.11 L208.17 167.41 L208.86 167.70 L209.54 167.99 L210.22 168.27 L210.91 168.55 L211.59 168.82 L212.27 169.09 L212.95 169.35 L213.64 169.61 L214.32 169.87 L215.00 170.12 L215.69 170.36 L216.37 170.61 L217.05 170.85 L217.74 171.08 L218.42 171.31 L219.10 171.54 L219.78 171.77 L220.47 171.99 L221.15 172.21 L221.83 172.42 L222.52 172.64 L223.20 172.85 L223.88 173.06 L224.57 173.26 L225.25 173.47 L225.93 173.67 L226.62 173.87 L227.30 174.07 L227.98 174.26 L228.66 174.46 L229.35 174.65 L230.03 174.84 L230.71 175.03 L231.40 175.21 L232.08 175.40 L232.76 175.58 L233.45 175.77 L234.13 175.95 L234.81 176.13 L235.49 176.30 L236.18 176.48 L236.86 176.66 L237.54 176.83 L238.23 177.00 L238.91 177.17 L239.59 177.34 L240.28 177.51 L240.96 177.67 L241.64 177.84 L242.33 178.00 L243.01 178.16 L243.69 178.32 L244.37 178.48 L245.06 178.64 L245.74 178.80 L246.42 178.95 L247.11 179.11 L247.79 179.26 L248.47 179.41 L249.16 179.56 L249.84 179.71 L250.52 179.86 L251.20 180.00 L251.89 180.15 L252.57 180.29 L253.25 180.43 L253.94 180.57 L254.62 180.71 L255.30 180.85 L255.99 180.99 L256.67 181.13 L257.35 181.26 L258.04 181.40 L258.72 181.53 L259.40 181.66 L260.08 181.79 L260.77 181.92 L261.45 182.05 L262.13 182.18 L262.82 182.31 L263.50 182.43 L264.18 182.56 L264.87 182.68 L265.55 182.80 L266.23 182.92 L266.91 183.04 L267.60 183.16 L268.28 183.28 L268.96 183.40 L269.65 183.51 L270.33 183.63 L271.01 183.74 L271.70 183.86 L272.38 183.97 L273.06 184.08 L273.75 184.19 L274.43 184.30 L275.11 184.41 L275.79 184.52 L276.48 184.62 L277.16 184.73 L277.84 184.83 L278.53 184.94 L279.21 185.04 L279.89 185.14 L280.58 185.24 L281.26 185.34 L281.94 185.44 L282.62 185.54 L283.31 185.64 L283.99 185.73 L284.67 185.83 L285.36 185.92 L286.04 186.02 L286.72 186.11 L287.41 186.20 L288.09 186.29 L288.77 186.38 L289.46 186.47 L290.14 186.56 L290.82 186.65 L291.50 186.73 L292.19 186.82 L292.87 186.90 L293.55 186.98 L294.24 187.06 L294.92 187.15 L295.60 187.22 L296.29 187.30 L296.97 187.38 L297.65 187.46 L298.33 187.53 L299.02 187.61 L299.70 187.68 L300.38 187.75 L301.07 187.82 L301.75 187.89 L302.43 187.96 L303.12 188.03 L303.80 188.10 L304.48 188.17 L305.17 188.23 L305.85 188.30 L306.53 188.36 L307.21 188.42 L307.90 188.49 L308.58 188.55 L309.26 188.61 L309.95 188.67 L310.63 188.73 L311.31 188.79 L312.00 188.84 L312.68 188.90 L313.36 188.95 L314.04 189.01 L314.73 189.06 L315.41 189.12 L316.09 189.17 L316.78 189.22 L317.46 189.27 L318.14 189.32 L318.83 189.37 L319.51 189.42 L320.19 189.47 L320.42 189.48" stroke="#00ff00" stroke-dasharray="6.0 1.2 1.7 1.2"/>
<path d="M47.43 196.60 L48.11 196.39 L48.80 196.17 L49.48 195.92 L50.17 195.65 L50.88 195.34 L51.60 194.98 L52.31 194.56 L53.02 194.07 L53.50 193.69 L53.98 193.28 L54.45 192.82 L54.93 192.32 L55.40 191.76 L55.88 191.14 L56.36 190.49 L56.83 189.82 L57.31 189.14 L57.78 188.44 L58.26 187.72 L58.73 186.97 L59.21 186.20 L59.69 185.40 L60.16 184.56 L60.63 183.69 L61.09 182.79 L61.54 181.85 L62.00 180.89 L62.45 179.89 L62.91 178.85 L63.36 177.79 L63.82 176.70 L64.05 176.14 L64.27 175.57 L64.50 175.00 L64.73 174.42 L64.96 173.83 L65.18 173.24 L65.41 172.64 L65.64 172.03 L65.87 171.42 L66.09 170.80 L66.32 170.17 L66.55 169.54 L66.78 168.91 L67.01 168.26 L67.23 167.62 L67.46 166.96 L67.69 166.31 L67.92 165.64 L68.14 164.98 L68.37 164.30 L68.60 163.63 L68.83 162.95 L69.05 162.27 L69.28 161.58 L69.51 160.89 L69.74 160.19 L69.97 159.50 L70.19 158.80 L70.42 158.09 L70.65 157.39 L70.88 156.68 L71.10 155.97 L71.33 155.26 L71.56 154.55 L71.79 153.83 L72.01 153.11 L72.24 152.39 L72.47 151.67 L72.70 150.95 L72.92 150.23 L73.15 149.51 L73.38 148.78 L73.61 148.06 L73.84 147.34 L74.06 146.61 L74.29 145.89 L74.52 145.16 L74.75 144.44 L74.97 143.71 L75.20 142.99 L75.43 142.26 L75.66 141.54 L75.88 140.82 L76.11 140.10 L76.34 139.38 L76.57 138.66 L76.80 137.94 L77.02 137.23 L77.25 136.51 L77.48 135.80 L77.71 135.09 L77.93 134.37 L78.16 133.67 L78.39 132.96 L78.62 132.26 L78.84 131.55 L79.07 130.85 L79.30 130.15 L79.53 129.46 L79.76 128.77 L79.98 128.07 L80.21 127.39 L80.44 126.70 L80.67 126.02 L80.89 125.34 L81.12 124.66 L81.35 123.99 L81.58 123.31 L81.80 122.65 L82.03 121.98 L82.26 121.32 L82.49 120.66 L82.72 120.00 L82.94 119.35 L83.17 118.70 L83.40 118.06 L83.63 117.42 L83.85 116.78 L84.08 116.14 L84.31 115.51 L84.54 114.89 L84.76 114.26 L84.99 113.64 L85.22 113.03 L85.45 112.42 L85.67 111.81 L85.89 111.21 L86.11 110.61 L86.33 110.02 L86.55 109.43 L86.77 108.84 L86.99 108.26 L87.21 107.69 L87.44 107.11 L87.66 106.55 L87.88 105.99 L88.32 104.88 L88.76 103.79 L89.20 102.72 L89.64 101.67 L90.09 100.64 L90.53 99.63 L90.97 98.65 L91.41 97.69 L91.85 96.75 L92.29 95.83 L92.74 94.94 L93.18 94.07 L93.62 93.23 L94.06 92.41 L94.50 91.62 L94.94 90.85 L95.39 90.11 L95.83 89.40 L96.27 88.71 L96.71 88.05 L97.15 87.42 L97.59 86.81 L98.04 86.24 L98.48 85.69 L98.92 85.18 L99.36 84.69 L99.80 84.23 L100.25 83.80 L100.71 83.40 L101.39 82.85 L102.07 82.37 L102.76 81.95 L103.44 81.60 L104.12 81.32 L104.81 81.09 L105.49 80.93 L106.17 80.83 L106.85 80.79 L107.54 80.80 L108.22 80.86 L108.90 80.98 L109.59 81.15 L110.27 81.36 L110.95 81.62 L111.64 81.92 L112.32 82.26 L113.00 82.64 L113.69 83.05 L114.37 83.50 L115.05 83.98 L115.73 84.49 L116.42 85.03 L117.10 85.59 L117.56 85.99 L118.01 86.39 L118.47 86.80 L118.92 87.22 L119.38 87.66 L119.83 88.10 L120.29 88.55 L120.74 89.01 L121.20 89.48 L121.65 89.96 L122.11 90.44 L122.56 90.94 L123.02 91.44 L123.48 91.95 L123.93 92.46 L124.39 92.98 L124.84 93.51 L125.30 94.04 L125.75 94.58 L126.21 95.13 L126.66 95.68 L127.12 96.23 L127.57 96.80 L128.03 97.36 L128.48 97.93 L128.94 98.50 L129.40 99.08 L129.85 99.66 L130.31 100.24 L130.76 100.83 L131.22 101.42 L131.67 102.01 L132.13 102.60 L132.58 103.20 L133.04 103.79 L133.49 104.39 L133.95 104.99 L134.40 105.59 L134.86 106.19 L135.32 106.79 L135.77 107.39 L136.23 107.99 L136.68 108.59 L137.14 109.19 L137.59 109.79 L138.05 110.38 L138.50 110.98 L138.96 111.57 L139.41 112.17 L139.87 112.76 L140.32 113.35 L140.78 113.94 L141.23 114.53 L141.69 115.11 L142.15 115.69 L142.60 116.27 L143.06 116.85 L143.51 117.43 L143.97 118.00 L144.42 118.57 L144.88 119.14 L145.33 119.70 L145.79 120.26 L146.24 120.82 L146.70 121.38 L147.15 121.93 L147.61 122.48 L148.07 123.03 L148.52 123.57 L148.98 124.11 L149.43 124.65 L149.89 125.19 L150.34 125.72 L150.80 126.24 L151.25 126.77 L151.71 127.29 L152.16 127.81 L152.62 128.32 L153.07 128.83 L153.53 129.34 L153.98 129.85 L154.44 130.35 L154.90 130.85 L155.35 131.34 L155.81 131.83 L156.26 132.32 L156.72 132.81 L157.17 133.29 L157.63 133.77 L158.08 134.24 L158.54 134.71 L158.99 135.18 L159.45 135.65 L159.90 136.11 L160.36 136.57 L160.82 137.02 L161.27 137.48 L161.73 137.93 L162.18 138.37 L162.64 138.81 L163.09 139.25 L163.55 139.69 L164.00 140.13 L164.46 140.56 L164.91 140.98 L165.37 141.41 L165.82 141.83 L166.28 142.25 L166.74 142.66 L167.19 143.08 L167.65 143.49 L168.10 143.89 L168.56 144.29 L169.01 144.69 L169.47 145.09 L169.92 145.49 L170.38 145.88 L171.06 146.46 L171.74 147.03 L172.43 147.60 L173.11 148.16 L173.79 148.71 L174.48 149.26 L175.16 149.80 L175.84 150.33 L176.53 150.86 L177.21 151.38 L177.89 151.90 L178.57 152.40 L179.26 152.91 L179.94 153.40 L180.62 153.89 L181.31 154.37 L181.99 154.85 L182.67 155.32 L183.36 155.79 L184.04 156.25 L184.72 156.70 L185.40 157.15 L186.09 157.59 L186.77 158.03 L187.45 158.46 L188.14 158.89 L188.82 159.31 L189.50 159.72 L190.19 160.13 L190.87 160.54 L191.55 160.94 L192.24 161.33 L192.92 161.72 L193.60 162.11 L194.28 162.49 L194.97 162.86 L195.65 163.23 L196.33 163.59 L197.02 163.95 L197.70 164.31 L198.38 164.65 L199.07 165.00 L199.75 165.33 L200.43 165.67 L201.11 165.99 L201.80 166.31 L202.48 166.63 L203.16 166.94 L203.85 167.24 L204.53 167.54 L205.21 167.83 L205.90 168.11 L206.58 168.39 L207.26 168.67 L207.95 168.94 L208.63 169.20 L209.31 169.46 L209.99 169.72 L210.68 169.97 L211.36 170.21 L212.04 170.46 L212.73 170.69 L213.41 170.93 L214.09 171.16 L214.78 171.38 L215.46 171.61 L216.14 171.83 L216.82 172.04 L217.51 172.25 L218.19 172.46 L218.87 172.67 L219.56 172.87 L220.24 173.07 L220.92 173.27 L221.61 173.47 L222.29 173.66 L222.97 173.86 L223.66 174.05 L224.34 174.23 L225.02 174.42 L225.70 174.61 L226.39 174.79 L227.07 174.97 L227.75 175.15 L228.44 175.33 L229.12 175.51 L229.80 175.69 L230.49 175.86 L231.17 176.04 L231.85 176.21 L232.53 176.39 L233.22 176.56 L233.90 176.73 L234.58 176.90 L235.27 177.07 L235.95 177.24 L236.63 177.41 L237.32 177.57 L238.00 177.74 L238.68 177.90 L239.37 178.06 L240.05 178.23 L240.73 178.39 L241.41 178.55 L242.10 178.70 L242.78 178.86 L243.46 179.02 L244.15 179.17 L244.83 179.33 L245.51 179.48 L246.20 179.63 L246.88 179.78 L247.56 179.93 L248.24 180.07 L248.93 180.22 L249.61 180.36 L250.29 180.51 L250.98 180.65 L251.66 180.79 L252.34 180.93 L253.03 181.06 L253.71 181.20 L254.39 181.34 L255.08 181.47 L255.76 181.60 L256.44 181.74 L257.12 181.87 L257.81 182.00 L258.49 182.13 L259.17 182.25 L259.86 182.38 L260.54 182.50 L261.22 182.63 L261.91 182.75 L262.59 182.87 L263.27 182.99 L263.96 183.11 L264.64 183.23 L265.32 183.35 L266.00 183.47 L266.69 183.58 L267.37 183.70 L268.05 183.81 L268.74 183.92 L269.42 184.04 L270.10 184.15 L270.79 184.26 L271.47 184.37 L272.15 184.47 L272.83 184.58 L273.52 184.69 L274.20 184.79 L274.88 184.90 L275.57 185.00 L276.25 185.10 L276.93 185.20 L277.62 185.30 L278.30 185.40 L278.98 185.50 L279.67 185.60 L280.35 185.70 L281.03 185.79 L281.71 185.89 L282.40 185.98 L283.08 186.08 L283.76 186.17 L284.45 186.26 L285.13 186.35 L285.81 186.44 L286.50 186.53 L287.18 186.62 L287.86 186.71 L288.54 186.80 L289.23 186.88 L289.91 186.97 L290.59 187.05 L291.28 187.13 L291.96 187.22 L292.64 187.30 L293.33 187.38 L294.01 187.46 L294.69 187.53 L295.38 187.61 L296.06 187.69 L296.74 187.76 L297.42 187.84 L298.11 187.91 L298.79 187.98 L299.47 188.05 L300.16 188.12 L300.84 188.19 L301.52 188.26 L302.21 188.33 L302.89 188.40 L303.57 188.46 L304.25 188.53 L304.94 188.59 L305.62 188.66 L306.30 188.72 L306.99 188.78 L307.67 188.84 L308.35 188.90 L309.04 188.96 L309.72 189.02 L310.40 189.08 L311.09 189.14 L311.77 189.19 L312.45 189.25 L313.13 189.30 L313.82 189.36 L314.50 189.41 L315.18 189.46 L315.87 189.52 L316.55 189.57 L317.23 189.62 L317.92 189.67 L318.60 189.72 L319.28 189.77 L319.96 189.81 L320.42 189.85" stroke="#ff0000" stroke-dasharray="6.0 1.2 1.6 1.2 1.6 1.2"/>
</g>
<text filter="url(#gs)" transform="translate(40.90 200.25) scale(1.040 1)" text-anchor="end" font-size="11.00">0</text>
<text filter="url(#gs)" transform="translate(40.90 168.99) scale(1.040 1)" text-anchor="end" font-size="11.00">50</text>
<text filter="url(#gs)" transform="translate(40.90 137.73) scale(1.040 1)" text-anchor="end" font-size="11.00">100</text>
<text filter="url(#gs)" transform="translate(40.90 106.48) scale(1.040 1)" text-anchor="end" font-size="11.00">150</text>
<text filter="url(#gs)" transform="translate(40.90 75.22) scale(1.040 1)" text-anchor="end" font-size="11.00">200</text>
<text filter="url(#gs)" transform="translate(40.90 43.96) scale(1.040 1)" text-anchor="end" font-size="11.00">250</text>
<text filter="url(#gs)" transform="translate(40.90 12.70) scale(1.040 1)" text-anchor="end" font-size="11.00">300</text>
<text filter="url(#gs)" transform="translate(48.73 211.00) scale(1.040 1)" text-anchor="middle" font-size="11.00">0</text>
<text filter="url(#gs)" transform="translate(116.98 211.00) scale(1.040 1)" text-anchor="middle" font-size="11.00">0.05</text>
<text filter="url(#gs)" transform="translate(185.23 211.00) scale(1.040 1)" text-anchor="middle" font-size="11.00">0.1</text>
<text filter="url(#gs)" transform="translate(253.47 211.00) scale(1.040 1)" text-anchor="middle" font-size="11.00">0.15</text>
<text filter="url(#gs)" transform="translate(321.72 211.00) scale(1.040 1)" text-anchor="middle" font-size="11.00">0.2</text>
<text filter="url(#gs)" transform="translate(177.30 226.60) scale(0.93 1)" font-size="12.4">B</text><text filter="url(#gs)" transform="translate(185.10 229.50) scale(1.0 1)" font-size="10.5">0</text>
<text filter="url(#gs)" transform="translate(0 22.05) scale(1.040 1)" x="257.37" font-size="11.00">H</text>
<path d="M281 18.40 H309.8" stroke="#000000" stroke-width="1.65" fill="none"/>
<text filter="url(#gs)" transform="translate(0 32.55) scale(1.040 1)" x="234.05 240.49 244.51 251.31 258.33" font-size="11.00">F g=1</text>
<path d="M281 28.90 H309.8" stroke="#0000ff" stroke-width="1.65" fill="none" stroke-dasharray="4.4 2.9"/>
<text filter="url(#gs)" transform="translate(0 43.05) scale(1.040 1)" x="234.05 240.49 244.51 251.31 258.51" font-size="11.00">F g=3</text>
<path d="M281 39.40 H309.8" stroke="#ff00ff" stroke-width="1.65" fill="none" stroke-dasharray="1.6 1.25"/>
<text filter="url(#gs)" transform="translate(0 53.55) scale(1.040 1)" x="234.05 240.49 244.51 251.31 258.49" font-size="11.00">F g=5</text>
<path d="M281 49.90 H309.8" stroke="#00ff00" stroke-width="1.65" fill="none" stroke-dasharray="6.0 1.2 1.7 1.2"/>
<text filter="url(#gs)" transform="translate(0 64.05) scale(1.040 1)" x="227.23 233.66 237.74 244.43 251.46 258.43" font-size="11.00">F g=10</text>
<path d="M281 60.40 H309.8" stroke="#ff0000" stroke-width="1.65" fill="none" stroke-dasharray="6.0 1.2 1.6 1.2 1.6 1.2"/>
<rect x="47.43" y="234.40" width="272.97" height="187.75" fill="none" stroke="#000" stroke-width="0.55"/>
<path d="M61.08 422.15 v-2.50 M61.08 234.40 v2.50 M74.73 422.15 v-2.50 M74.73 234.40 v2.50 M88.38 422.15 v-2.50 M88.38 234.40 v2.50 M102.02 422.15 v-2.50 M102.02 234.40 v2.50 M115.67 422.15 v-4.60 M115.67 234.40 v4.60 M129.32 422.15 v-2.50 M129.32 234.40 v2.50 M142.97 422.15 v-2.50 M142.97 234.40 v2.50 M156.62 422.15 v-2.50 M156.62 234.40 v2.50 M170.27 422.15 v-2.50 M170.27 234.40 v2.50 M183.91 422.15 v-4.60 M183.91 234.40 v4.60 M197.56 422.15 v-2.50 M197.56 234.40 v2.50 M211.21 422.15 v-2.50 M211.21 234.40 v2.50 M224.86 422.15 v-2.50 M224.86 234.40 v2.50 M238.51 422.15 v-2.50 M238.51 234.40 v2.50 M252.16 422.15 v-4.60 M252.16 234.40 v4.60 M265.81 422.15 v-2.50 M265.81 234.40 v2.50 M279.45 422.15 v-2.50 M279.45 234.40 v2.50 M293.10 422.15 v-2.50 M293.10 234.40 v2.50 M306.75 422.15 v-2.50 M306.75 234.40 v2.50 M47.43 422.15 h4.5 M320.40 422.15 h-4.5 M47.43 403.38 h4.5 M320.40 403.38 h-4.5 M47.43 384.60 h4.5 M320.40 384.60 h-4.5 M47.43 365.82 h4.5 M320.40 365.82 h-4.5 M47.43 347.05 h4.5 M320.40 347.05 h-4.5 M47.43 328.27 h4.5 M320.40 328.27 h-4.5 M47.43 309.50 h4.5 M320.40 309.50 h-4.5 M47.43 290.73 h4.5 M320.40 290.73 h-4.5 M47.43 271.95 h4.5 M320.40 271.95 h-4.5 M47.43 253.18 h4.5 M320.40 253.18 h-4.5" stroke="#000" stroke-width="0.67" fill="none"/>
<g clip-path="url(#cb)" fill="none" stroke-width="1.65" stroke-linejoin="round">
<path d="M47.45 422.15 L47.51 421.28 L47.58 420.40 L47.65 419.53 L47.71 418.65 L47.77 417.78 L47.84 416.91 L47.90 416.03 L47.96 415.16 L48.02 414.29 L48.08 413.42 L48.14 412.55 L48.20 411.68 L48.26 410.80 L48.31 409.93 L48.37 409.06 L48.43 408.19 L48.48 407.32 L48.54 406.45 L48.59 405.58 L48.64 404.72 L48.70 403.85 L48.75 402.98 L48.80 402.11 L48.86 401.24 L48.91 400.37 L48.96 399.51 L49.01 398.64 L49.06 397.77 L49.11 396.91 L49.16 396.04 L49.21 395.17 L49.26 394.31 L49.31 393.44 L49.35 392.57 L49.40 391.71 L49.45 390.84 L49.50 389.98 L49.54 389.11 L49.59 388.25 L49.63 387.38 L49.68 386.52 L49.73 385.66 L49.77 384.79 L49.82 383.93 L49.86 383.06 L49.91 382.20 L49.95 381.34 L50.00 380.47 L50.04 379.61 L50.08 378.75 L50.13 377.88 L50.17 377.02 L50.21 376.16 L50.26 375.30 L50.30 374.43 L50.35 373.57 L50.39 372.71 L50.43 371.85 L50.48 370.99 L50.52 370.12 L50.56 369.26 L50.61 368.40 L50.65 367.54 L50.69 366.68 L50.74 365.82 L50.78 364.95 L50.82 364.09 L50.87 363.23 L50.91 362.37 L50.95 361.51 L51.00 360.65 L51.04 359.79 L51.09 358.93 L51.13 358.07 L51.18 357.21 L51.22 356.35 L51.27 355.48 L51.31 354.62 L51.36 353.76 L51.40 352.90 L51.45 352.04 L51.50 351.18 L51.54 350.32 L51.59 349.46 L51.64 348.60 L51.68 347.74 L51.73 346.88 L51.78 346.02 L51.83 345.16 L51.88 344.30 L51.93 343.44 L51.98 342.57 L52.03 341.71 L52.08 340.85 L52.13 339.99 L52.18 339.13 L52.23 338.27 L52.28 337.41 L52.34 336.55 L52.39 335.69 L52.44 334.83 L52.50 333.97 L52.55 333.10 L52.61 332.24 L52.66 331.38 L52.72 330.52 L52.78 329.66 L52.83 328.80 L52.89 327.93 L52.95 327.07 L53.01 326.21 L53.07 325.35 L53.13 324.49 L53.19 323.62 L53.26 322.76 L53.32 321.90 L53.38 321.04 L53.45 320.17 L53.51 319.31 L53.58 318.45 L53.64 317.58 L53.71 316.72 L53.78 315.86 L53.85 314.99 L53.92 314.13 L53.99 313.26 L54.06 312.40 L54.13 311.54 L54.21 310.67 L54.28 309.81 L54.36 308.94 L54.43 308.08 L54.51 307.21 L54.59 306.34 L54.67 305.48 L54.75 304.61 L54.83 303.75 L54.91 302.88 L54.99 302.01 L55.08 301.15 L55.16 300.28 L55.25 299.41 L55.33 298.54 L55.42 297.68 L55.51 296.81 L55.60 295.94 L55.69 295.07 L55.78 294.20 L55.88 293.33 L55.97 292.46 L56.07 291.59 L56.16 290.72 L56.26 289.85 L56.36 288.98 L56.46 288.11 L56.56 287.24 L56.67 286.37 L56.77 285.50 L56.88 284.63 L56.98 283.75 L57.09 282.88 L57.20 282.01 L57.31 281.14 L57.42 280.26 L57.54 279.39 L57.65 278.51 L57.77 277.64 L57.88 276.76 L58.00 275.89 L58.12 275.01 L58.24 274.14 L58.37 273.26 L58.49 272.39 L58.63 271.51 L58.76 270.64 L58.90 269.77 L59.04 268.90 L59.20 268.04 L59.36 267.17 L59.52 266.32 L59.70 265.46 L59.88 264.61 L60.08 263.77 L60.28 262.93 L60.50 262.10 L60.73 261.27 L60.97 260.45 L61.22 259.64 L61.49 258.84 L61.77 258.04 L62.07 257.25 L62.39 256.48 L62.72 255.71 L63.07 254.95 L63.44 254.20 L63.82 253.46 L64.23 252.74 L64.66 252.02 L65.11 251.32 L65.58 250.63 L66.07 249.96 L66.58 249.30 L67.12 248.65 L67.68 248.02 L68.26 247.40 L68.86 246.80 L69.48 246.22 L70.11 245.65 L70.77 245.11 L71.44 244.58 L72.14 244.08 L72.84 243.59 L73.57 243.13 L74.30 242.68 L75.06 242.26 L75.83 241.87 L76.61 241.50 L77.40 241.15 L78.21 240.82 L79.02 240.52 L79.85 240.24 L80.68 239.97 L81.52 239.73 L82.37 239.49 L83.22 239.28 L84.08 239.07 L84.94 238.88 L85.80 238.70 L86.66 238.52 L87.52 238.36 L88.38 238.20 L89.24 238.05 L90.10 237.91 L90.97 237.77 L91.83 237.64 L92.69 237.52 L93.55 237.41 L94.42 237.30 L95.28 237.20 L96.14 237.10 L97.01 237.02 L97.87 236.93 L98.73 236.85 L99.60 236.78 L100.46 236.71 L101.33 236.65 L102.19 236.59 L103.06 236.54 L103.92 236.49 L104.79 236.45 L105.65 236.41 L106.52 236.37 L107.38 236.34 L108.25 236.31 L109.11 236.28 L109.98 236.26 L110.84 236.24 L111.71 236.22 L112.58 236.20 L113.44 236.19 L114.31 236.18 L115.18 236.17 L116.04 236.16 L116.91 236.16 L117.78 236.15 L118.65 236.15 L119.51 236.14 L120.38 236.14 L121.25 236.14 L122.12 236.14 L122.98 236.14 L123.85 236.13 L124.72 236.13 L125.59 236.13 L126.46 236.13 L127.32 236.12 L128.19 236.12 L129.06 236.11 L129.93 236.10 L130.80 236.09 L131.67 236.08 L132.54 236.07 L133.41 236.05 L134.27 236.03 L135.14 236.01 L136.01 235.99 L136.88 235.96 L137.75 235.93 L138.62 235.90 L139.49 235.87 L140.36 235.83 L141.23 235.79 L142.10 235.75 L142.97 235.71 L143.84 235.67 L144.71 235.63 L145.57 235.59 L146.44 235.54 L147.31 235.50 L148.18 235.46 L149.05 235.42 L149.92 235.38 L150.79 235.34 L151.65 235.30 L152.52 235.26 L153.39 235.23 L154.26 235.20 L155.12 235.17 L155.99 235.14 L156.86 235.12 L157.72 235.10 L158.59 235.08 L159.45 235.07 L160.32 235.06 L161.18 235.06 L162.05 235.06 L162.91 235.07 L163.77 235.08 L164.64 235.09 L165.50 235.12 L166.36 235.15 L167.22 235.18 L168.08 235.22 L168.95 235.27 L169.80 235.33 L170.66 235.39 L171.52 235.47 L172.38 235.55 L173.24 235.63 L174.10 235.73 L174.95 235.84 L175.81 235.95 L176.66 236.07 L177.52 236.21 L178.37 236.35 L179.22 236.50 L180.08 236.65 L180.93 236.81 L181.78 236.98 L182.63 237.15 L183.48 237.33 L184.33 237.51 L185.18 237.70 L186.03 237.88 L186.88 238.07 L187.73 238.26 L188.58 238.45 L189.43 238.64 L190.28 238.83 L191.13 239.02 L191.98 239.20 L192.83 239.39 L193.68 239.57 L194.53 239.74 L195.38 239.91 L196.23 240.08 L197.08 240.24 L197.93 240.40 L198.78 240.55 L199.63 240.69 L200.48 240.82 L201.33 240.94 L202.18 241.06 L203.04 241.16 L203.89 241.26 L204.74 241.34 L205.60 241.41 L206.45 241.48 L207.31 241.52 L208.16 241.56 L209.02 241.58 L209.88 241.58 L210.74 241.58 L211.59 241.55 L212.45 241.52 L213.31 241.47 L214.17 241.40 L215.03 241.33 L215.90 241.25 L216.76 241.16 L217.62 241.07 L218.48 240.97 L219.35 240.86 L220.21 240.75 L221.07 240.64 L221.94 240.52 L222.80 240.41 L223.67 240.30 L224.53 240.18 L225.39 240.07 L226.26 239.97 L227.12 239.87 L227.99 239.77 L228.85 239.67 L229.72 239.58 L230.58 239.49 L231.45 239.40 L232.31 239.31 L233.18 239.23 L234.04 239.15 L234.91 239.08 L235.77 239.01 L236.64 238.94 L237.50 238.87 L238.37 238.80 L239.23 238.74 L240.10 238.68 L240.96 238.62 L241.83 238.57 L242.69 238.51 L243.56 238.46 L244.42 238.41 L245.29 238.37 L246.15 238.33 L247.02 238.28 L247.89 238.24 L248.75 238.21 L249.62 238.17 L250.48 238.14 L251.35 238.11 L252.21 238.08 L253.08 238.05 L253.95 238.02 L254.81 238.00 L255.68 237.98 L256.54 237.96 L257.41 237.94 L258.28 237.92 L259.14 237.90 L260.01 237.89 L260.87 237.88 L261.74 237.87 L262.61 237.86 L263.47 237.85 L264.34 237.84 L265.20 237.83 L266.07 237.83 L266.94 237.82 L267.80 237.82 L268.67 237.82 L269.54 237.82 L270.40 237.82 L271.27 237.82 L272.14 237.82 L273.00 237.83 L273.87 237.83 L274.74 237.83 L275.60 237.84 L276.47 237.84 L277.34 237.85 L278.20 237.86 L279.07 237.87 L279.94 237.87 L280.80 237.88 L281.67 237.89 L282.54 237.90 L283.40 237.91 L284.27 237.92 L285.14 237.93 L286.00 237.94 L286.87 237.95 L287.74 237.96 L288.60 237.97 L289.47 237.98 L290.34 237.99 L291.20 238.00 L292.07 238.01 L292.94 238.02 L293.81 238.03 L294.67 238.04 L295.54 238.05 L296.41 238.06 L297.27 238.07 L298.14 238.08 L299.01 238.09 L299.88 238.09 L300.74 238.10 L301.61 238.11 L302.48 238.11 L303.34 238.12 L304.21 238.12 L305.08 238.12 L305.95 238.13 L306.81 238.13 L307.68 238.13 L308.55 238.13 L309.41 238.13 L310.28 238.12 L311.15 238.12 L312.02 238.11 L312.88 238.11 L313.75 238.10 L314.62 238.09 L315.49 238.08 L316.35 238.07 L317.22 238.06 L318.09 238.04 L318.95 238.03 L319.82 238.01 L320.40 238.00" stroke="#0000ff" stroke-dasharray="4.4 2.9" stroke-dashoffset="-0.85"/>
<path d="M47.45 422.15 L47.50 421.31 L47.55 420.47 L47.60 419.63 L47.66 418.78 L47.71 417.94 L47.76 417.10 L47.81 416.25 L47.86 415.41 L47.91 414.57 L47.97 413.72 L48.02 412.88 L48.07 412.03 L48.12 411.19 L48.17 410.34 L48.23 409.49 L48.28 408.65 L48.33 407.80 L48.38 406.95 L48.43 406.11 L48.49 405.26 L48.54 404.41 L48.59 403.56 L48.64 402.71 L48.70 401.86 L48.75 401.01 L48.80 400.16 L48.85 399.31 L48.90 398.46 L48.96 397.61 L49.01 396.76 L49.06 395.91 L49.11 395.06 L49.17 394.21 L49.22 393.36 L49.27 392.51 L49.33 391.66 L49.38 390.81 L49.43 389.95 L49.48 389.10 L49.54 388.25 L49.59 387.40 L49.64 386.55 L49.70 385.69 L49.75 384.84 L49.80 383.99 L49.85 383.14 L49.91 382.28 L49.96 381.43 L50.01 380.58 L50.07 379.72 L50.12 378.87 L50.17 378.02 L50.23 377.16 L50.28 376.31 L50.33 375.46 L50.39 374.61 L50.44 373.75 L50.50 372.90 L50.55 372.05 L50.60 371.19 L50.66 370.34 L50.71 369.49 L50.76 368.63 L50.82 367.78 L50.87 366.93 L50.93 366.08 L50.98 365.22 L51.03 364.37 L51.09 363.52 L51.14 362.67 L51.20 361.81 L51.25 360.96 L51.31 360.11 L51.36 359.26 L51.41 358.41 L51.47 357.56 L51.52 356.71 L51.58 355.85 L51.63 355.00 L51.69 354.15 L51.74 353.30 L51.80 352.45 L51.85 351.60 L51.91 350.75 L51.96 349.90 L52.02 349.05 L52.07 348.20 L52.13 347.36 L52.18 346.51 L52.24 345.66 L52.29 344.81 L52.35 343.96 L52.40 343.12 L52.46 342.27 L52.52 341.42 L52.57 340.58 L52.63 339.73 L52.68 338.88 L52.74 338.04 L52.79 337.19 L52.85 336.35 L52.91 335.50 L52.96 334.66 L53.02 333.82 L53.07 332.97 L53.13 332.13 L53.19 331.29 L53.24 330.45 L53.30 329.60 L53.36 328.76 L53.42 327.92 L53.47 327.08 L53.53 326.24 L53.59 325.40 L53.65 324.56 L53.71 323.72 L53.77 322.88 L53.83 322.04 L53.90 321.20 L53.96 320.36 L54.02 319.52 L54.09 318.68 L54.15 317.84 L54.22 317.00 L54.29 316.16 L54.36 315.33 L54.43 314.49 L54.50 313.65 L54.57 312.81 L54.65 311.97 L54.72 311.13 L54.80 310.29 L54.88 309.45 L54.96 308.61 L55.04 307.77 L55.13 306.93 L55.21 306.09 L55.30 305.25 L55.39 304.41 L55.48 303.56 L55.57 302.72 L55.67 301.88 L55.76 301.04 L55.86 300.20 L55.96 299.35 L56.07 298.51 L56.17 297.67 L56.28 296.82 L56.39 295.98 L56.50 295.13 L56.61 294.29 L56.73 293.44 L56.85 292.59 L56.97 291.75 L57.10 290.90 L57.23 290.05 L57.36 289.20 L57.49 288.35 L57.62 287.50 L57.76 286.65 L57.91 285.80 L58.05 284.95 L58.20 284.09 L58.35 283.24 L58.50 282.39 L58.66 281.53 L58.82 280.67 L58.98 279.82 L59.15 278.96 L59.32 278.10 L59.49 277.24 L59.67 276.38 L59.86 275.52 L60.04 274.66 L60.24 273.81 L60.44 272.95 L60.65 272.10 L60.88 271.25 L61.11 270.41 L61.35 269.57 L61.61 268.74 L61.88 267.92 L62.16 267.10 L62.46 266.29 L62.78 265.49 L63.11 264.70 L63.47 263.92 L63.84 263.16 L64.23 262.41 L64.64 261.67 L65.06 260.95 L65.51 260.25 L65.98 259.56 L66.47 258.90 L66.99 258.26 L67.52 257.64 L68.08 257.05 L68.66 256.48 L69.26 255.94 L69.88 255.43 L70.53 254.94 L71.19 254.47 L71.87 254.03 L72.57 253.61 L73.29 253.22 L74.02 252.84 L74.77 252.48 L75.53 252.14 L76.30 251.82 L77.08 251.52 L77.87 251.24 L78.68 250.97 L79.49 250.71 L80.31 250.47 L81.13 250.25 L81.96 250.03 L82.79 249.83 L83.63 249.64 L84.47 249.46 L85.31 249.29 L86.15 249.13 L86.99 248.98 L87.83 248.83 L88.67 248.70 L89.52 248.57 L90.36 248.45 L91.20 248.34 L92.05 248.24 L92.89 248.15 L93.74 248.06 L94.58 247.98 L95.43 247.91 L96.27 247.85 L97.12 247.79 L97.97 247.74 L98.82 247.70 L99.66 247.66 L100.51 247.63 L101.36 247.61 L102.21 247.59 L103.06 247.58 L103.91 247.58 L104.76 247.58 L105.61 247.59 L106.46 247.61 L107.31 247.63 L108.16 247.65 L109.01 247.68 L109.86 247.72 L110.71 247.76 L111.56 247.80 L112.41 247.85 L113.27 247.91 L114.12 247.97 L114.97 248.03 L115.82 248.10 L116.67 248.17 L117.52 248.25 L118.38 248.33 L119.23 248.41 L120.08 248.50 L120.93 248.59 L121.79 248.69 L122.64 248.78 L123.49 248.88 L124.34 248.98 L125.19 249.09 L126.05 249.20 L126.90 249.31 L127.75 249.42 L128.60 249.54 L129.45 249.65 L130.30 249.77 L131.15 249.89 L132.01 250.02 L132.86 250.14 L133.71 250.27 L134.56 250.39 L135.41 250.52 L136.26 250.65 L137.11 250.78 L137.96 250.91 L138.81 251.04 L139.65 251.17 L140.50 251.30 L141.35 251.43 L142.20 251.56 L143.05 251.69 L143.89 251.82 L144.74 251.95 L145.59 252.08 L146.43 252.21 L147.28 252.34 L148.12 252.46 L148.97 252.59 L149.81 252.71 L150.66 252.84 L151.50 252.96 L152.34 253.08 L153.18 253.20 L154.02 253.31 L154.87 253.43 L155.71 253.54 L156.55 253.65 L157.39 253.76 L158.22 253.87 L159.06 253.99 L159.90 254.10 L160.74 254.21 L161.57 254.32 L162.41 254.43 L163.24 254.54 L164.08 254.66 L164.91 254.78 L165.74 254.90 L166.57 255.02 L167.40 255.14 L168.23 255.27 L169.06 255.40 L169.89 255.53 L170.72 255.67 L171.55 255.81 L172.37 255.96 L173.20 256.11 L174.02 256.26 L174.85 256.42 L175.67 256.59 L176.49 256.76 L177.31 256.94 L178.13 257.13 L178.95 257.32 L179.76 257.52 L180.58 257.72 L181.40 257.94 L182.21 258.16 L183.02 258.39 L183.84 258.63 L184.65 258.87 L185.46 259.13 L186.27 259.39 L187.07 259.67 L187.88 259.95 L188.69 260.24 L189.49 260.54 L190.30 260.84 L191.10 261.14 L191.91 261.45 L192.71 261.76 L193.51 262.08 L194.32 262.39 L195.12 262.70 L195.93 263.01 L196.73 263.31 L197.54 263.62 L198.35 263.91 L199.15 264.20 L199.96 264.48 L200.78 264.76 L201.59 265.02 L202.40 265.27 L203.22 265.52 L204.04 265.75 L204.86 265.96 L205.68 266.16 L206.50 266.35 L207.33 266.51 L208.16 266.67 L208.99 266.80 L209.82 266.93 L210.66 267.04 L211.50 267.14 L212.34 267.22 L213.18 267.30 L214.02 267.36 L214.86 267.41 L215.71 267.46 L216.56 267.50 L217.41 267.53 L218.25 267.55 L219.10 267.57 L219.96 267.58 L220.81 267.59 L221.66 267.59 L222.51 267.59 L223.37 267.59 L224.22 267.59 L225.08 267.59 L225.93 267.58 L226.78 267.58 L227.64 267.58 L228.49 267.58 L229.35 267.59 L230.20 267.60 L231.05 267.61 L231.91 267.63 L232.76 267.65 L233.61 267.68 L234.46 267.71 L235.31 267.74 L236.16 267.78 L237.01 267.82 L237.86 267.87 L238.71 267.91 L239.56 267.97 L240.41 268.02 L241.26 268.08 L242.11 268.14 L242.96 268.20 L243.80 268.26 L244.65 268.33 L245.50 268.40 L246.35 268.47 L247.19 268.54 L248.04 268.62 L248.89 268.69 L249.73 268.77 L250.58 268.85 L251.43 268.93 L252.27 269.02 L253.12 269.10 L253.96 269.18 L254.81 269.27 L255.66 269.35 L256.50 269.44 L257.35 269.53 L258.19 269.62 L259.04 269.71 L259.88 269.80 L260.73 269.89 L261.57 269.98 L262.42 270.07 L263.26 270.16 L264.11 270.26 L264.95 270.35 L265.80 270.45 L266.64 270.54 L267.49 270.64 L268.33 270.73 L269.18 270.83 L270.02 270.93 L270.87 271.03 L271.71 271.13 L272.56 271.23 L273.40 271.33 L274.25 271.43 L275.09 271.53 L275.94 271.63 L276.78 271.73 L277.62 271.83 L278.47 271.93 L279.31 272.04 L280.16 272.14 L281.00 272.24 L281.84 272.34 L282.69 272.45 L283.53 272.55 L284.38 272.66 L285.22 272.76 L286.07 272.86 L286.91 272.97 L287.75 273.07 L288.60 273.18 L289.44 273.28 L290.29 273.39 L291.13 273.49 L291.97 273.60 L292.82 273.70 L293.66 273.81 L294.51 273.91 L295.35 274.02 L296.19 274.12 L297.04 274.23 L297.88 274.33 L298.73 274.43 L299.57 274.54 L300.41 274.64 L301.26 274.75 L302.10 274.85 L302.95 274.95 L303.79 275.06 L304.63 275.16 L305.48 275.26 L306.32 275.36 L307.17 275.46 L308.01 275.57 L308.86 275.67 L309.70 275.77 L310.54 275.87 L311.39 275.97 L312.23 276.07 L313.08 276.17 L313.92 276.26 L314.77 276.36 L315.61 276.46 L316.46 276.56 L317.30 276.65 L318.15 276.75 L318.99 276.84 L319.84 276.94 L320.40 277.00" stroke="#ff00ff" stroke-dasharray="1.6 1.25" stroke-dashoffset="0"/>
<path d="M47.45 422.15 L47.51 421.32 L47.57 420.49 L47.63 419.67 L47.69 418.84 L47.74 418.01 L47.80 417.18 L47.86 416.35 L47.92 415.52 L47.98 414.70 L48.04 413.87 L48.11 413.04 L48.17 412.21 L48.23 411.38 L48.29 410.55 L48.35 409.72 L48.41 408.90 L48.47 408.07 L48.53 407.24 L48.60 406.41 L48.66 405.58 L48.72 404.75 L48.78 403.92 L48.85 403.09 L48.91 402.26 L48.97 401.43 L49.03 400.60 L49.10 399.77 L49.16 398.95 L49.22 398.12 L49.29 397.29 L49.35 396.46 L49.41 395.63 L49.48 394.80 L49.54 393.97 L49.60 393.14 L49.67 392.31 L49.73 391.48 L49.79 390.65 L49.86 389.82 L49.92 388.99 L49.98 388.16 L50.05 387.33 L50.11 386.50 L50.17 385.67 L50.24 384.84 L50.30 384.01 L50.36 383.18 L50.43 382.35 L50.49 381.52 L50.56 380.69 L50.62 379.86 L50.68 379.03 L50.75 378.20 L50.81 377.37 L50.87 376.54 L50.93 375.71 L51.00 374.88 L51.06 374.05 L51.12 373.22 L51.19 372.39 L51.25 371.56 L51.31 370.73 L51.37 369.90 L51.43 369.07 L51.50 368.24 L51.56 367.41 L51.62 366.58 L51.68 365.75 L51.74 364.92 L51.80 364.09 L51.87 363.26 L51.93 362.43 L51.99 361.61 L52.05 360.78 L52.11 359.95 L52.17 359.12 L52.23 358.29 L52.29 357.46 L52.35 356.63 L52.41 355.80 L52.46 354.97 L52.52 354.14 L52.58 353.31 L52.64 352.48 L52.70 351.65 L52.76 350.82 L52.81 349.99 L52.87 349.16 L52.93 348.33 L52.98 347.50 L53.04 346.68 L53.10 345.85 L53.15 345.02 L53.21 344.19 L53.26 343.36 L53.32 342.53 L53.37 341.70 L53.42 340.87 L53.48 340.04 L53.53 339.22 L53.58 338.39 L53.64 337.56 L53.69 336.73 L53.74 335.90 L53.79 335.07 L53.84 334.25 L53.89 333.42 L53.94 332.59 L53.99 331.76 L54.04 330.93 L54.09 330.11 L54.14 329.28 L54.19 328.45 L54.25 327.62 L54.30 326.80 L54.35 325.97 L54.41 325.14 L54.46 324.31 L54.52 323.49 L54.58 322.66 L54.64 321.83 L54.70 321.01 L54.77 320.18 L54.83 319.35 L54.90 318.53 L54.97 317.70 L55.05 316.88 L55.13 316.05 L55.21 315.22 L55.29 314.40 L55.38 313.57 L55.46 312.75 L55.56 311.92 L55.66 311.10 L55.76 310.27 L55.86 309.45 L55.97 308.63 L56.08 307.80 L56.20 306.98 L56.33 306.15 L56.45 305.33 L56.59 304.51 L56.72 303.69 L56.87 302.86 L57.01 302.04 L57.17 301.22 L57.33 300.40 L57.49 299.58 L57.67 298.75 L57.84 297.93 L58.03 297.11 L58.22 296.29 L58.42 295.47 L58.62 294.65 L58.83 293.83 L59.05 293.01 L59.28 292.19 L59.51 291.38 L59.75 290.56 L60.00 289.74 L60.26 288.92 L60.53 288.11 L60.80 287.30 L61.09 286.50 L61.39 285.70 L61.70 284.91 L62.02 284.13 L62.35 283.35 L62.69 282.59 L63.05 281.83 L63.43 281.09 L63.82 280.36 L64.22 279.65 L64.64 278.94 L65.07 278.26 L65.52 277.59 L65.99 276.94 L66.48 276.30 L66.98 275.69 L67.51 275.09 L68.05 274.52 L68.61 273.97 L69.19 273.44 L69.80 272.94 L70.42 272.46 L71.07 272.01 L71.74 271.58 L72.42 271.17 L73.12 270.79 L73.84 270.43 L74.58 270.09 L75.33 269.77 L76.09 269.47 L76.87 269.20 L77.66 268.94 L78.45 268.70 L79.26 268.48 L80.08 268.27 L80.90 268.08 L81.74 267.91 L82.57 267.75 L83.41 267.61 L84.26 267.48 L85.11 267.37 L85.96 267.27 L86.81 267.18 L87.66 267.10 L88.51 267.04 L89.35 266.98 L90.20 266.94 L91.04 266.90 L91.88 266.88 L92.72 266.87 L93.56 266.86 L94.40 266.87 L95.24 266.88 L96.07 266.91 L96.91 266.94 L97.74 266.98 L98.57 267.03 L99.40 267.09 L100.23 267.16 L101.05 267.23 L101.88 267.32 L102.70 267.41 L103.53 267.50 L104.35 267.61 L105.17 267.72 L105.99 267.84 L106.81 267.97 L107.63 268.10 L108.44 268.24 L109.26 268.38 L110.07 268.53 L110.89 268.68 L111.70 268.85 L112.51 269.01 L113.33 269.18 L114.14 269.36 L114.95 269.54 L115.76 269.72 L116.57 269.91 L117.37 270.11 L118.18 270.30 L118.99 270.51 L119.80 270.71 L120.60 270.92 L121.41 271.13 L122.21 271.34 L123.02 271.56 L123.82 271.78 L124.63 272.00 L125.43 272.22 L126.23 272.44 L127.04 272.67 L127.84 272.90 L128.64 273.13 L129.45 273.36 L130.25 273.59 L131.05 273.82 L131.85 274.05 L132.65 274.28 L133.46 274.52 L134.26 274.75 L135.06 274.98 L135.86 275.21 L136.67 275.44 L137.47 275.67 L138.27 275.90 L139.07 276.13 L139.88 276.36 L140.68 276.59 L141.48 276.81 L142.29 277.04 L143.09 277.27 L143.89 277.49 L144.69 277.72 L145.50 277.94 L146.30 278.17 L147.10 278.40 L147.90 278.62 L148.70 278.85 L149.50 279.08 L150.30 279.31 L151.10 279.54 L151.90 279.77 L152.70 280.00 L153.50 280.23 L154.30 280.46 L155.10 280.70 L155.89 280.93 L156.69 281.17 L157.48 281.41 L158.28 281.65 L159.07 281.89 L159.87 282.13 L160.66 282.37 L161.45 282.62 L162.24 282.87 L163.03 283.12 L163.82 283.37 L164.61 283.63 L165.40 283.89 L166.18 284.15 L166.97 284.41 L167.75 284.68 L168.53 284.95 L169.31 285.22 L170.09 285.49 L170.87 285.77 L171.65 286.05 L172.43 286.33 L173.20 286.62 L173.98 286.91 L174.75 287.21 L175.52 287.50 L176.29 287.81 L177.06 288.11 L177.83 288.42 L178.59 288.73 L179.35 289.05 L180.12 289.37 L180.88 289.70 L181.64 290.03 L182.39 290.36 L183.15 290.70 L183.90 291.05 L184.65 291.40 L185.40 291.75 L186.15 292.11 L186.90 292.47 L187.64 292.84 L188.39 293.21 L189.13 293.58 L189.87 293.96 L190.61 294.34 L191.35 294.72 L192.09 295.10 L192.83 295.48 L193.57 295.86 L194.31 296.24 L195.05 296.61 L195.79 296.98 L196.53 297.35 L197.28 297.72 L198.02 298.08 L198.77 298.43 L199.52 298.78 L200.27 299.12 L201.03 299.45 L201.79 299.78 L202.55 300.10 L203.31 300.41 L204.08 300.70 L204.85 300.99 L205.62 301.27 L206.40 301.53 L207.18 301.79 L207.97 302.03 L208.76 302.27 L209.55 302.49 L210.35 302.71 L211.14 302.92 L211.95 303.12 L212.75 303.32 L213.55 303.51 L214.36 303.69 L215.17 303.87 L215.98 304.04 L216.80 304.20 L217.61 304.37 L218.43 304.53 L219.25 304.68 L220.06 304.84 L220.88 304.99 L221.70 305.14 L222.52 305.29 L223.35 305.44 L224.17 305.58 L224.99 305.73 L225.81 305.88 L226.63 306.03 L227.45 306.19 L228.27 306.34 L229.09 306.50 L229.91 306.66 L230.72 306.83 L231.54 307.00 L232.35 307.17 L233.17 307.35 L233.98 307.53 L234.79 307.71 L235.60 307.90 L236.41 308.09 L237.22 308.28 L238.03 308.48 L238.83 308.68 L239.64 308.88 L240.45 309.09 L241.25 309.29 L242.05 309.51 L242.86 309.72 L243.66 309.94 L244.46 310.16 L245.26 310.38 L246.06 310.60 L246.86 310.83 L247.66 311.06 L248.46 311.29 L249.25 311.52 L250.05 311.76 L250.85 312.00 L251.64 312.24 L252.44 312.48 L253.23 312.73 L254.02 312.97 L254.82 313.22 L255.61 313.47 L256.40 313.72 L257.19 313.97 L257.99 314.23 L258.78 314.48 L259.57 314.74 L260.36 315.00 L261.15 315.26 L261.94 315.52 L262.72 315.79 L263.51 316.05 L264.30 316.31 L265.09 316.58 L265.88 316.85 L266.67 317.11 L267.45 317.38 L268.24 317.65 L269.03 317.92 L269.81 318.19 L270.60 318.46 L271.39 318.74 L272.17 319.01 L272.96 319.28 L273.75 319.55 L274.53 319.82 L275.32 320.10 L276.10 320.37 L276.89 320.64 L277.68 320.92 L278.46 321.19 L279.25 321.46 L280.04 321.74 L280.82 322.01 L281.61 322.28 L282.40 322.55 L283.18 322.82 L283.97 323.09 L284.76 323.36 L285.54 323.63 L286.33 323.90 L287.12 324.17 L287.91 324.44 L288.70 324.70 L289.48 324.97 L290.27 325.23 L291.06 325.49 L291.85 325.75 L292.64 326.02 L293.43 326.27 L294.22 326.53 L295.02 326.79 L295.81 327.04 L296.60 327.30 L297.39 327.55 L298.19 327.80 L298.98 328.05 L299.77 328.29 L300.57 328.54 L301.36 328.78 L302.16 329.02 L302.96 329.26 L303.75 329.50 L304.55 329.73 L305.35 329.96 L306.15 330.19 L306.95 330.42 L307.75 330.64 L308.55 330.87 L309.35 331.09 L310.16 331.30 L310.96 331.52 L311.76 331.73 L312.57 331.94 L313.38 332.14 L314.18 332.35 L314.99 332.55 L315.80 332.74 L316.61 332.94 L317.42 333.13 L318.23 333.32 L319.04 333.50 L319.86 333.68 L320.40 333.80" stroke="#00ff00" stroke-dasharray="6.0 1.2 1.7 1.2" stroke-dashoffset="0"/>
<path d="M47.45 422.15 L47.51 421.39 L47.56 420.63 L47.62 419.87 L47.67 419.11 L47.73 418.36 L47.79 417.60 L47.85 416.85 L47.91 416.10 L47.97 415.34 L48.03 414.59 L48.09 413.84 L48.16 413.09 L48.22 412.34 L48.28 411.60 L48.35 410.85 L48.41 410.10 L48.48 409.36 L48.54 408.61 L48.61 407.87 L48.68 407.13 L48.75 406.38 L48.81 405.64 L48.88 404.90 L48.95 404.16 L49.02 403.42 L49.09 402.68 L49.16 401.94 L49.23 401.21 L49.31 400.47 L49.38 399.73 L49.45 398.99 L49.52 398.26 L49.60 397.52 L49.67 396.79 L49.75 396.05 L49.82 395.32 L49.90 394.58 L49.97 393.85 L50.05 393.12 L50.13 392.38 L50.20 391.65 L50.28 390.92 L50.36 390.19 L50.44 389.45 L50.52 388.72 L50.60 387.99 L50.67 387.26 L50.75 386.53 L50.83 385.79 L50.91 385.06 L51.00 384.33 L51.08 383.60 L51.16 382.87 L51.24 382.14 L51.32 381.40 L51.40 380.67 L51.49 379.94 L51.57 379.21 L51.65 378.48 L51.73 377.75 L51.82 377.01 L51.90 376.28 L51.98 375.55 L52.07 374.82 L52.15 374.08 L52.24 373.35 L52.32 372.61 L52.41 371.88 L52.49 371.15 L52.58 370.41 L52.66 369.68 L52.75 368.94 L52.83 368.20 L52.92 367.47 L53.00 366.73 L53.09 365.99 L53.18 365.26 L53.26 364.52 L53.35 363.78 L53.43 363.04 L53.52 362.30 L53.61 361.56 L53.69 360.82 L53.78 360.07 L53.87 359.33 L53.95 358.59 L54.04 357.84 L54.13 357.10 L54.21 356.35 L54.30 355.60 L54.39 354.86 L54.47 354.11 L54.56 353.36 L54.65 352.61 L54.73 351.86 L54.82 351.10 L54.91 350.35 L54.99 349.60 L55.08 348.84 L55.17 348.09 L55.25 347.33 L55.34 346.57 L55.42 345.81 L55.51 345.05 L55.60 344.29 L55.69 343.53 L55.78 342.77 L55.87 342.01 L55.97 341.25 L56.07 340.49 L56.17 339.73 L56.28 338.98 L56.39 338.23 L56.51 337.47 L56.63 336.72 L56.76 335.98 L56.90 335.23 L57.04 334.49 L57.19 333.76 L57.35 333.02 L57.52 332.30 L57.70 331.57 L57.88 330.85 L58.08 330.14 L58.29 329.43 L58.50 328.72 L58.73 328.02 L58.97 327.33 L59.22 326.64 L59.49 325.97 L59.77 325.29 L60.06 324.63 L60.37 323.97 L60.69 323.32 L61.03 322.68 L61.38 322.04 L61.75 321.42 L62.13 320.80 L62.53 320.20 L62.95 319.60 L63.39 319.01 L63.84 318.43 L64.30 317.86 L64.78 317.31 L65.28 316.76 L65.79 316.22 L66.31 315.70 L66.85 315.18 L67.39 314.68 L67.95 314.19 L68.52 313.71 L69.11 313.24 L69.70 312.78 L70.30 312.34 L70.91 311.91 L71.53 311.49 L72.16 311.08 L72.79 310.69 L73.43 310.31 L74.08 309.95 L74.74 309.60 L75.40 309.26 L76.06 308.94 L76.73 308.63 L77.41 308.33 L78.09 308.05 L78.77 307.79 L79.46 307.53 L80.15 307.29 L80.84 307.06 L81.54 306.84 L82.25 306.63 L82.95 306.44 L83.66 306.25 L84.37 306.07 L85.09 305.91 L85.81 305.75 L86.53 305.60 L87.26 305.46 L87.98 305.33 L88.71 305.21 L89.44 305.09 L90.18 304.98 L90.92 304.88 L91.65 304.78 L92.39 304.69 L93.14 304.60 L93.88 304.52 L94.63 304.44 L95.37 304.36 L96.12 304.29 L96.87 304.23 L97.62 304.16 L98.38 304.10 L99.13 304.04 L99.88 303.98 L100.64 303.92 L101.39 303.86 L102.14 303.81 L102.90 303.75 L103.66 303.69 L104.41 303.63 L105.17 303.57 L105.92 303.51 L106.68 303.45 L107.43 303.38 L108.18 303.31 L108.94 303.24 L109.69 303.16 L110.44 303.08 L111.19 303.00 L111.94 302.92 L112.69 302.83 L113.44 302.74 L114.19 302.65 L114.94 302.55 L115.69 302.46 L116.43 302.36 L117.18 302.26 L117.93 302.15 L118.67 302.05 L119.42 301.95 L120.16 301.84 L120.90 301.73 L121.65 301.62 L122.39 301.51 L123.13 301.40 L123.88 301.29 L124.62 301.18 L125.36 301.07 L126.10 300.96 L126.84 300.85 L127.58 300.73 L128.32 300.62 L129.06 300.51 L129.80 300.40 L130.54 300.29 L131.28 300.18 L132.02 300.07 L132.75 299.96 L133.49 299.86 L134.23 299.75 L134.97 299.65 L135.70 299.54 L136.44 299.44 L137.18 299.34 L137.91 299.25 L138.65 299.15 L139.39 299.06 L140.12 298.97 L140.86 298.88 L141.59 298.80 L142.33 298.71 L143.06 298.63 L143.80 298.56 L144.53 298.48 L145.27 298.41 L146.00 298.35 L146.74 298.28 L147.47 298.22 L148.21 298.17 L148.94 298.12 L149.68 298.07 L150.42 298.03 L151.15 297.99 L151.89 297.95 L152.62 297.92 L153.36 297.90 L154.09 297.88 L154.83 297.86 L155.56 297.85 L156.30 297.85 L157.03 297.85 L157.77 297.86 L158.51 297.87 L159.24 297.89 L159.98 297.91 L160.72 297.94 L161.45 297.98 L162.19 298.02 L162.93 298.07 L163.66 298.13 L164.40 298.19 L165.14 298.26 L165.88 298.34 L166.62 298.42 L167.35 298.51 L168.09 298.60 L168.83 298.70 L169.57 298.80 L170.31 298.91 L171.04 299.03 L171.78 299.15 L172.52 299.28 L173.26 299.41 L173.99 299.55 L174.73 299.69 L175.46 299.84 L176.20 299.99 L176.93 300.14 L177.67 300.30 L178.40 300.47 L179.14 300.63 L179.87 300.81 L180.60 300.98 L181.33 301.16 L182.06 301.35 L182.79 301.53 L183.52 301.72 L184.25 301.91 L184.97 302.11 L185.70 302.31 L186.42 302.51 L187.14 302.72 L187.87 302.92 L188.59 303.13 L189.31 303.35 L190.03 303.56 L190.74 303.78 L191.46 303.99 L192.17 304.21 L192.89 304.44 L193.60 304.66 L194.31 304.88 L195.02 305.11 L195.72 305.33 L196.43 305.56 L197.14 305.79 L197.84 306.01 L198.55 306.23 L199.25 306.45 L199.96 306.67 L200.66 306.88 L201.37 307.09 L202.08 307.29 L202.79 307.49 L203.50 307.68 L204.21 307.86 L204.92 308.04 L205.64 308.21 L206.35 308.37 L207.07 308.53 L207.79 308.68 L208.52 308.82 L209.24 308.95 L209.97 309.08 L210.69 309.20 L211.42 309.32 L212.15 309.43 L212.89 309.54 L213.62 309.64 L214.36 309.73 L215.09 309.83 L215.83 309.91 L216.57 310.00 L217.31 310.08 L218.05 310.16 L218.80 310.23 L219.54 310.31 L220.28 310.38 L221.03 310.45 L221.77 310.52 L222.52 310.60 L223.26 310.67 L224.01 310.75 L224.75 310.83 L225.49 310.91 L226.24 310.99 L226.98 311.08 L227.72 311.17 L228.46 311.27 L229.20 311.37 L229.94 311.48 L230.68 311.60 L231.41 311.72 L232.15 311.85 L232.88 311.98 L233.61 312.12 L234.34 312.27 L235.07 312.41 L235.80 312.57 L236.53 312.73 L237.25 312.89 L237.98 313.06 L238.70 313.23 L239.43 313.41 L240.15 313.59 L240.87 313.78 L241.59 313.96 L242.31 314.15 L243.03 314.35 L243.75 314.54 L244.47 314.74 L245.19 314.94 L245.90 315.15 L246.62 315.35 L247.34 315.56 L248.05 315.76 L248.77 315.97 L249.48 316.18 L250.20 316.40 L250.91 316.61 L251.63 316.82 L252.34 317.04 L253.05 317.26 L253.77 317.47 L254.48 317.69 L255.19 317.91 L255.90 318.13 L256.61 318.36 L257.33 318.58 L258.04 318.80 L258.75 319.03 L259.46 319.25 L260.17 319.48 L260.88 319.71 L261.59 319.93 L262.30 320.16 L263.01 320.39 L263.72 320.62 L264.42 320.85 L265.13 321.08 L265.84 321.32 L266.55 321.55 L267.26 321.78 L267.97 322.02 L268.67 322.25 L269.38 322.48 L270.09 322.72 L270.80 322.95 L271.51 323.19 L272.21 323.42 L272.92 323.66 L273.63 323.90 L274.33 324.13 L275.04 324.37 L275.75 324.61 L276.46 324.84 L277.16 325.08 L277.87 325.32 L278.58 325.55 L279.28 325.79 L279.99 326.03 L280.70 326.26 L281.41 326.50 L282.11 326.74 L282.82 326.97 L283.53 327.21 L284.24 327.44 L284.94 327.68 L285.65 327.91 L286.36 328.15 L287.07 328.38 L287.77 328.62 L288.48 328.85 L289.19 329.08 L289.90 329.31 L290.61 329.55 L291.32 329.78 L292.03 330.01 L292.73 330.24 L293.44 330.47 L294.15 330.69 L294.86 330.92 L295.57 331.15 L296.28 331.38 L296.99 331.60 L297.70 331.83 L298.42 332.05 L299.13 332.27 L299.84 332.49 L300.55 332.71 L301.26 332.93 L301.98 333.15 L302.69 333.37 L303.40 333.59 L304.11 333.80 L304.83 334.02 L305.54 334.23 L306.26 334.44 L306.97 334.65 L307.69 334.86 L308.40 335.07 L309.12 335.27 L309.84 335.48 L310.55 335.68 L311.27 335.88 L311.99 336.08 L312.71 336.28 L313.43 336.48 L314.14 336.68 L314.86 336.87 L315.58 337.06 L316.31 337.25 L317.03 337.44 L317.75 337.63 L318.47 337.81 L319.19 338.00 L319.92 338.18 L320.40 338.30" stroke="#ff0000" stroke-dasharray="6.0 1.2 1.6 1.2 1.6 1.2" stroke-dashoffset="0"/>
</g>
<text filter="url(#gs)" transform="translate(40.90 425.80) scale(1.040 1)" text-anchor="end" font-size="11.00">0</text>
<text filter="url(#gs)" transform="translate(40.90 407.02) scale(1.040 1)" text-anchor="end" font-size="11.00">0.1</text>
<text filter="url(#gs)" transform="translate(40.90 388.25) scale(1.040 1)" text-anchor="end" font-size="11.00">0.2</text>
<text filter="url(#gs)" transform="translate(40.90 369.47) scale(1.040 1)" text-anchor="end" font-size="11.00">0.3</text>
<text filter="url(#gs)" transform="translate(40.90 350.70) scale(1.040 1)" text-anchor="end" font-size="11.00">0.4</text>
<text filter="url(#gs)" transform="translate(40.90 331.92) scale(1.040 1)" text-anchor="end" font-size="11.00">0.5</text>
<text filter="url(#gs)" transform="translate(40.90 313.15) scale(1.040 1)" text-anchor="end" font-size="11.00">0.6</text>
<text filter="url(#gs)" transform="translate(40.90 294.38) scale(1.040 1)" text-anchor="end" font-size="11.00">0.7</text>
<text filter="url(#gs)" transform="translate(40.90 275.60) scale(1.040 1)" text-anchor="end" font-size="11.00">0.8</text>
<text filter="url(#gs)" transform="translate(40.90 256.82) scale(1.040 1)" text-anchor="end" font-size="11.00">0.9</text>
<text filter="url(#gs)" transform="translate(40.90 238.05) scale(1.040 1)" text-anchor="end" font-size="11.00">1</text>
<text filter="url(#gs)" transform="translate(48.73 436.60) scale(1.040 1)" text-anchor="middle" font-size="11.00">0</text>
<text filter="url(#gs)" transform="translate(116.97 436.60) scale(1.040 1)" text-anchor="middle" font-size="11.00">0.05</text>
<text filter="url(#gs)" transform="translate(185.22 436.60) scale(1.040 1)" text-anchor="middle" font-size="11.00">0.1</text>
<text filter="url(#gs)" transform="translate(253.46 436.60) scale(1.040 1)" text-anchor="middle" font-size="11.00">0.15</text>
<text filter="url(#gs)" transform="translate(321.70 436.60) scale(1.040 1)" text-anchor="middle" font-size="11.00">0.2</text>
<text filter="url(#gs)" transform="translate(177.30 452.60) scale(0.93 1)" font-size="12.4">B</text><text filter="url(#gs)" transform="translate(185.10 455.50) scale(1.0 1)" font-size="10.5">0</text>
<text filter="url(#gs)" transform="translate(11.00 327.80) rotate(-90) scale(0.890 1)" text-anchor="middle" font-size="12.60">R</text>
<text filter="url(#gs)" transform="translate(0 385.15) scale(1.040 1)" x="244.51 251.31 258.33" font-size="11.00">g=1</text>
<path d="M281 381.50 H309.8" stroke="#0000ff" stroke-width="1.65" fill="none" stroke-dasharray="4.4 2.9"/>
<text filter="url(#gs)" transform="translate(0 395.65) scale(1.040 1)" x="244.51 251.31 258.51" font-size="11.00">g=3</text>
<path d="M281 392.00 H309.8" stroke="#ff00ff" stroke-width="1.65" fill="none" stroke-dasharray="1.6 1.25"/>
<text filter="url(#gs)" transform="translate(0 406.15) scale(1.040 1)" x="244.51 251.31 258.49" font-size="11.00">g=5</text>
<path d="M281 402.50 H309.8" stroke="#00ff00" stroke-width="1.65" fill="none" stroke-dasharray="6.0 1.2 1.7 1.2"/>
<text filter="url(#gs)" transform="translate(0 416.65) scale(1.040 1)" x="237.74 244.43 251.46 258.43" font-size="11.00">g=10</text>
<path d="M281 413.00 H309.8" stroke="#ff0000" stroke-width="1.65" fill="none" stroke-dasharray="6.0 1.2 1.6 1.2 1.6 1.2"/>
</svg></body></html>
